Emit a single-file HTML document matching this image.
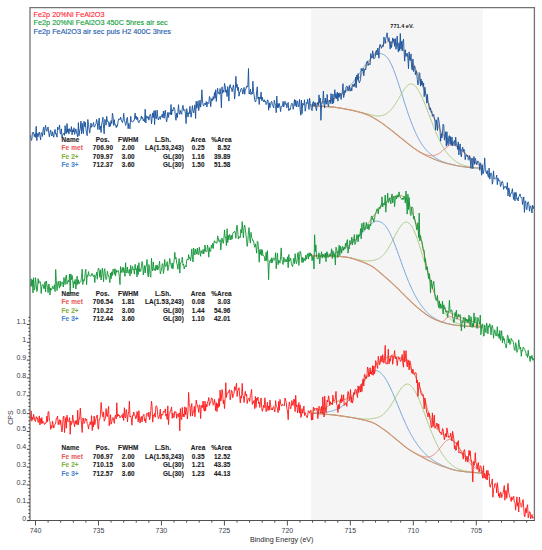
<!DOCTYPE html>
<html><head><meta charset="utf-8"><style>
html,body{margin:0;padding:0;background:#fff;}
body{width:542px;height:550px;overflow:hidden;}
svg{display:block;font-family:"Liberation Sans",sans-serif;}
.ax{font-size:7px;fill:#3a3a4a;}
.ax2{font-size:7.1px;fill:#2a2a2a;}
.lg{font-size:7.3px;stroke-width:0.14px;}
.pk{font-size:5.6px;font-weight:bold;fill:#222;}
.tb{font-size:6.4px;letter-spacing:0.12px;font-weight:bold;fill:#1a1a1a;stroke:#1a1a1a;stroke-width:0.1px;}
</style></head><body>
<svg width="542" height="550" viewBox="0 0 542 550">
<rect x="311" y="9.6" width="171.8" height="510.4" fill="#f5f5f5"/>
<polyline points="311.0,104.9 311.5,104.9 312.0,104.8 312.5,104.8 313.0,104.7 313.5,104.6 314.0,104.6 314.5,104.5 315.0,104.4 315.5,104.4 316.0,104.3 316.5,104.2 317.0,104.2 317.5,104.1 318.0,104.0 318.5,103.9 319.0,103.8 319.5,103.8 320.0,103.7 320.5,103.6 321.0,103.5 321.5,103.4 322.0,103.2 322.5,103.1 323.0,103.0 323.5,102.9 324.0,102.8 324.5,102.6 325.0,102.5 325.5,102.3 326.0,102.2 326.5,102.0 327.0,101.9 327.5,101.7 328.0,101.5 328.5,101.3 329.0,101.1 329.5,100.9 330.0,100.7 330.5,100.5 331.0,100.3 331.5,100.1 332.0,99.8 332.5,99.6 333.0,99.4 333.5,99.1 334.0,98.9 334.5,98.6 335.0,98.3 335.5,98.1 336.0,97.8 336.5,97.5 337.0,97.2 337.5,96.9 338.0,96.6 338.5,96.2 339.0,95.9 339.5,95.6 340.0,95.2 340.5,94.8 341.0,94.5 341.5,94.1 342.0,93.7 342.5,93.3 343.0,92.8 343.5,92.4 344.0,92.0 344.5,91.5 345.0,91.0 345.5,90.5 346.0,90.1 346.5,89.6 347.0,89.0 347.5,88.5 348.0,88.0 348.5,87.4 349.0,86.9 349.5,86.3 350.0,85.7 350.5,85.1 351.0,84.5 351.5,83.9 352.0,83.3 352.5,82.7 353.0,82.1 353.5,81.4 354.0,80.8 354.5,80.1 355.0,79.5 355.5,78.8 356.0,78.1 356.5,77.4 357.0,76.7 357.5,76.0 358.0,75.3 358.5,74.6 359.0,73.9 359.5,73.2 360.0,72.5 360.5,71.8 361.0,71.1 361.5,70.4 362.0,69.7 362.5,69.0 363.0,68.3 363.5,67.6 364.0,66.9 364.5,66.2 365.0,65.5 365.5,64.8 366.0,64.2 366.5,63.5 367.0,62.8 367.5,62.2 368.0,61.6 368.5,61.0 369.0,60.4 369.5,59.9 370.0,59.3 370.5,58.8 371.0,58.3 371.5,57.9 372.0,57.4 372.5,57.0 373.0,56.6 373.5,56.2 374.0,55.9 374.5,55.5 375.0,55.2 375.5,55.0 376.0,54.7 376.5,54.5 377.0,54.3 377.5,54.1 378.0,54.0 378.5,53.9 379.0,53.8 379.5,53.7 380.0,53.7 380.5,53.7 381.0,53.8 381.5,53.8 382.0,54.0 382.5,54.1 383.0,54.3 383.5,54.5 384.0,54.8 384.5,55.1 385.0,55.5 385.5,55.8 386.0,56.3 386.5,56.8 387.0,57.3 387.5,57.9 388.0,58.6 388.5,59.3 389.0,60.1 389.5,60.9 390.0,61.8 390.5,62.8 391.0,63.8 391.5,64.8 392.0,65.9 392.5,67.1 393.0,68.2 393.5,69.5 394.0,70.8 394.5,72.1 395.0,73.4 395.5,74.8 396.0,76.2 396.5,77.6 397.0,79.1 397.5,80.6 398.0,82.1 398.5,83.6 399.0,85.2 399.5,86.7 400.0,88.3 400.5,89.9 401.0,91.4 401.5,93.0 402.0,94.6 402.5,96.2 403.0,97.8 403.5,99.4 404.0,101.0 404.5,102.5 405.0,104.1 405.5,105.7 406.0,107.2 406.5,108.7 407.0,110.2 407.5,111.7 408.0,113.2 408.5,114.7 409.0,116.1 409.5,117.5 410.0,118.9 410.5,120.2 411.0,121.6 411.5,122.9 412.0,124.2 412.5,125.4 413.0,126.7 413.5,127.9 414.0,129.1 414.5,130.2 415.0,131.4 415.5,132.5 416.0,133.6 416.5,134.6 417.0,135.7 417.5,136.7 418.0,137.6 418.5,138.6 419.0,139.5 419.5,140.4 420.0,141.2 420.5,142.1 421.0,142.9 421.5,143.7 422.0,144.4 422.5,145.1 423.0,145.9 423.5,146.5 424.0,147.2 424.5,147.8 425.0,148.5 425.5,149.1 426.0,149.6 426.5,150.2 427.0,150.8 427.5,151.3 428.0,151.8 428.5,152.3 429.0,152.8 429.5,153.2 430.0,153.7 430.5,154.1 431.0,154.6 431.5,155.0 432.0,155.4 432.5,155.8 433.0,156.2 433.5,156.6 434.0,156.9 434.5,157.3 435.0,157.6 435.5,158.0 436.0,158.3 436.5,158.6 437.0,158.9 437.5,159.2 438.0,159.5 438.5,159.7 439.0,160.0 439.5,160.3 440.0,160.5 440.5,160.7 441.0,161.0 441.5,161.2 442.0,161.4 442.5,161.6 443.0,161.8 443.5,162.0 444.0,162.1 444.5,162.3 445.0,162.5 445.5,162.6 446.0,162.8 446.5,163.0 447.0,163.1 447.5,163.3 448.0,163.4 448.5,163.5 449.0,163.7 449.5,163.8 450.0,164.0 450.5,164.1 451.0,164.2 451.5,164.3 452.0,164.5 452.5,164.6 453.0,164.7 453.5,164.8 454.0,164.9 454.5,165.1 455.0,165.2 455.5,165.3 456.0,165.4 456.5,165.5 457.0,165.6 457.5,165.7 458.0,165.8 458.5,165.9 459.0,166.0 459.5,166.1 460.0,166.2 460.5,166.3 461.0,166.3 461.5,166.4 462.0,166.5 462.5,166.6 463.0,166.6 463.5,166.7 464.0,166.8 464.5,166.8 465.0,166.9 465.5,167.0 466.0,167.0 466.5,167.1 467.0,167.2 467.5,167.2 468.0,167.3 468.5,167.3 469.0,167.4 469.5,167.4 470.0,167.5 470.5,167.5 471.0,167.6 471.5,167.6 472.0,167.7 472.5,167.7 473.0,167.7 473.5,167.8 474.0,167.8 474.5,167.8 475.0,167.9 475.5,167.9 476.0,167.9 476.5,168.0 477.0,168.0 477.5,168.0 478.0,168.1 478.5,168.1 479.0,168.1 479.5,168.2 480.0,168.2 480.5,168.2 481.0,168.2 481.5,168.2 482.0,168.3 482.5,168.3 483.0,168.3" fill="none" stroke="#72a4d8" stroke-width="1"/>
<polyline points="311.0,106.0 311.5,106.0 312.0,106.0 312.5,106.0 313.0,106.0 313.5,106.0 314.0,106.0 314.5,106.0 315.0,106.0 315.5,106.1 316.0,106.1 316.5,106.1 317.0,106.1 317.5,106.1 318.0,106.1 318.5,106.2 319.0,106.2 319.5,106.2 320.0,106.2 320.5,106.2 321.0,106.3 321.5,106.3 322.0,106.3 322.5,106.3 323.0,106.4 323.5,106.4 324.0,106.4 324.5,106.5 325.0,106.5 325.5,106.5 326.0,106.5 326.5,106.6 327.0,106.6 327.5,106.6 328.0,106.7 328.5,106.7 329.0,106.7 329.5,106.8 330.0,106.8 330.5,106.8 331.0,106.9 331.5,106.9 332.0,107.0 332.5,107.0 333.0,107.1 333.5,107.1 334.0,107.2 334.5,107.2 335.0,107.3 335.5,107.4 336.0,107.4 336.5,107.5 337.0,107.6 337.5,107.7 338.0,107.7 338.5,107.8 339.0,107.9 339.5,108.0 340.0,108.1 340.5,108.1 341.0,108.2 341.5,108.3 342.0,108.4 342.5,108.5 343.0,108.6 343.5,108.6 344.0,108.7 344.5,108.8 345.0,108.9 345.5,109.0 346.0,109.1 346.5,109.2 347.0,109.3 347.5,109.4 348.0,109.5 348.5,109.6 349.0,109.7 349.5,109.8 350.0,109.9 350.5,110.0 351.0,110.1 351.5,110.2 352.0,110.3 352.5,110.4 353.0,110.5 353.5,110.6 354.0,110.7 354.5,110.8 355.0,110.9 355.5,111.0 356.0,111.1 356.5,111.3 357.0,111.4 357.5,111.5 358.0,111.6 358.5,111.7 359.0,111.8 359.5,112.0 360.0,112.1 360.5,112.2 361.0,112.3 361.5,112.4 362.0,112.6 362.5,112.7 363.0,112.8 363.5,112.9 364.0,113.0 364.5,113.2 365.0,113.3 365.5,113.4 366.0,113.5 366.5,113.6 367.0,113.7 367.5,113.9 368.0,114.0 368.5,114.1 369.0,114.2 369.5,114.4 370.0,114.5 370.5,114.6 371.0,114.8 371.5,114.9 372.0,115.0 372.5,115.1 373.0,115.3 373.5,115.4 374.0,115.5 374.5,115.6 375.0,115.7 375.5,115.7 376.0,115.8 376.5,115.9 377.0,115.9 377.5,116.0 378.0,116.0 378.5,116.0 379.0,116.0 379.5,115.9 380.0,115.9 380.5,115.8 381.0,115.7 381.5,115.6 382.0,115.5 382.5,115.4 383.0,115.2 383.5,115.1 384.0,114.9 384.5,114.7 385.0,114.5 385.5,114.2 386.0,114.0 386.5,113.7 387.0,113.4 387.5,113.0 388.0,112.6 388.5,112.2 389.0,111.8 389.5,111.3 390.0,110.8 390.5,110.3 391.0,109.7 391.5,109.2 392.0,108.6 392.5,107.9 393.0,107.3 393.5,106.6 394.0,105.9 394.5,105.2 395.0,104.4 395.5,103.7 396.0,102.9 396.5,102.1 397.0,101.3 397.5,100.5 398.0,99.6 398.5,98.8 399.0,97.9 399.5,97.1 400.0,96.2 400.5,95.4 401.0,94.5 401.5,93.7 402.0,92.9 402.5,92.1 403.0,91.3 403.5,90.5 404.0,89.8 404.5,89.1 405.0,88.4 405.5,87.8 406.0,87.2 406.5,86.6 407.0,86.1 407.5,85.6 408.0,85.2 408.5,84.8 409.0,84.5 409.5,84.3 410.0,84.1 410.5,83.9 411.0,83.9 411.5,83.9 412.0,83.9 412.5,84.1 413.0,84.3 413.5,84.6 414.0,84.9 414.5,85.4 415.0,85.8 415.5,86.3 416.0,86.9 416.5,87.5 417.0,88.2 417.5,88.9 418.0,89.7 418.5,90.5 419.0,91.4 419.5,92.3 420.0,93.2 420.5,94.2 421.0,95.2 421.5,96.2 422.0,97.3 422.5,98.4 423.0,99.5 423.5,100.7 424.0,101.9 424.5,103.1 425.0,104.3 425.5,105.6 426.0,106.9 426.5,108.2 427.0,109.4 427.5,110.8 428.0,112.1 428.5,113.4 429.0,114.7 429.5,116.0 430.0,117.4 430.5,118.7 431.0,120.0 431.5,121.3 432.0,122.6 432.5,123.9 433.0,125.2 433.5,126.5 434.0,127.8 434.5,129.0 435.0,130.3 435.5,131.5 436.0,132.7 436.5,133.9 437.0,135.0 437.5,136.2 438.0,137.3 438.5,138.4 439.0,139.4 439.5,140.5 440.0,141.5 440.5,142.5 441.0,143.4 441.5,144.3 442.0,145.3 442.5,146.1 443.0,147.0 443.5,147.8 444.0,148.6 444.5,149.4 445.0,150.1 445.5,150.9 446.0,151.6 446.5,152.3 447.0,152.9 447.5,153.6 448.0,154.2 448.5,154.8 449.0,155.3 449.5,155.9 450.0,156.4 450.5,156.9 451.0,157.4 451.5,157.9 452.0,158.4 452.5,158.8 453.0,159.3 453.5,159.7 454.0,160.1 454.5,160.5 455.0,160.9 455.5,161.2 456.0,161.6 456.5,161.9 457.0,162.2 457.5,162.5 458.0,162.8 458.5,163.1 459.0,163.3 459.5,163.6 460.0,163.8 460.5,164.1 461.0,164.3 461.5,164.5 462.0,164.7 462.5,164.9 463.0,165.1 463.5,165.2 464.0,165.4 464.5,165.6 465.0,165.7 465.5,165.9 466.0,166.0 466.5,166.1 467.0,166.3 467.5,166.4 468.0,166.5 468.5,166.6 469.0,166.7 469.5,166.8 470.0,166.9 470.5,167.0 471.0,167.1 471.5,167.1 472.0,167.2 472.5,167.3 473.0,167.4 473.5,167.4 474.0,167.5 474.5,167.5 475.0,167.6 475.5,167.7 476.0,167.7 476.5,167.8 477.0,167.8 477.5,167.9 478.0,167.9 478.5,168.0 479.0,168.0 479.5,168.0 480.0,168.1 480.5,168.1 481.0,168.1 481.5,168.2 482.0,168.2 482.5,168.2 483.0,168.2" fill="none" stroke="#abc982" stroke-width="1"/>
<polyline points="311.0,106.0 311.5,106.0 312.0,106.0 312.5,106.0 313.0,106.0 313.5,106.0 314.0,106.0 314.5,106.0 315.0,106.0 315.5,106.1 316.0,106.1 316.5,106.1 317.0,106.1 317.5,106.1 318.0,106.1 318.5,106.2 319.0,106.2 319.5,106.2 320.0,106.2 320.5,106.2 321.0,106.3 321.5,106.3 322.0,106.3 322.5,106.3 323.0,106.4 323.5,106.4 324.0,106.4 324.5,106.5 325.0,106.5 325.5,106.5 326.0,106.5 326.5,106.6 327.0,106.6 327.5,106.6 328.0,106.7 328.5,106.7 329.0,106.7 329.5,106.8 330.0,106.8 330.5,106.8 331.0,106.9 331.5,106.9 332.0,107.0 332.5,107.0 333.0,107.1 333.5,107.1 334.0,107.2 334.5,107.2 335.0,107.3 335.5,107.4 336.0,107.4 336.5,107.5 337.0,107.6 337.5,107.7 338.0,107.7 338.5,107.8 339.0,107.9 339.5,108.0 340.0,108.1 340.5,108.1 341.0,108.2 341.5,108.3 342.0,108.4 342.5,108.5 343.0,108.6 343.5,108.7 344.0,108.7 344.5,108.8 345.0,108.9 345.5,109.0 346.0,109.1 346.5,109.2 347.0,109.3 347.5,109.4 348.0,109.5 348.5,109.6 349.0,109.7 349.5,109.8 350.0,109.9 350.5,110.0 351.0,110.1 351.5,110.2 352.0,110.3 352.5,110.4 353.0,110.5 353.5,110.7 354.0,110.8 354.5,110.9 355.0,111.0 355.5,111.1 356.0,111.3 356.5,111.4 357.0,111.5 357.5,111.7 358.0,111.8 358.5,111.9 359.0,112.1 359.5,112.2 360.0,112.3 360.5,112.5 361.0,112.6 361.5,112.8 362.0,112.9 362.5,113.1 363.0,113.3 363.5,113.4 364.0,113.6 364.5,113.7 365.0,113.9 365.5,114.1 366.0,114.3 366.5,114.4 367.0,114.6 367.5,114.8 368.0,115.0 368.5,115.2 369.0,115.5 369.5,115.7 370.0,115.9 370.5,116.2 371.0,116.4 371.5,116.7 372.0,117.0 372.5,117.2 373.0,117.5 373.5,117.8 374.0,118.1 374.5,118.4 375.0,118.7 375.5,119.0 376.0,119.3 376.5,119.6 377.0,119.9 377.5,120.2 378.0,120.5 378.5,120.9 379.0,121.2 379.5,121.5 380.0,121.8 380.5,122.1 381.0,122.5 381.5,122.8 382.0,123.1 382.5,123.5 383.0,123.8 383.5,124.2 384.0,124.6 384.5,125.0 385.0,125.3 385.5,125.7 386.0,126.1 386.5,126.5 387.0,126.9 387.5,127.3 388.0,127.7 388.5,128.1 389.0,128.4 389.5,128.8 390.0,129.2 390.5,129.6 391.0,130.0 391.5,130.4 392.0,130.8 392.5,131.2 393.0,131.6 393.5,132.0 394.0,132.4 394.5,132.8 395.0,133.2 395.5,133.6 396.0,134.0 396.5,134.4 397.0,134.8 397.5,135.2 398.0,135.6 398.5,136.0 399.0,136.4 399.5,136.8 400.0,137.2 400.5,137.6 401.0,138.0 401.5,138.4 402.0,138.8 402.5,139.2 403.0,139.6 403.5,140.0 404.0,140.4 404.5,140.8 405.0,141.2 405.5,141.6 406.0,142.0 406.5,142.4 407.0,142.9 407.5,143.2 408.0,143.6 408.5,144.0 409.0,144.4 409.5,144.8 410.0,145.2 410.5,145.6 411.0,145.9 411.5,146.3 412.0,146.7 412.5,147.0 413.0,147.4 413.5,147.8 414.0,148.1 414.5,148.5 415.0,148.8 415.5,149.2 416.0,149.5 416.5,149.9 417.0,150.2 417.5,150.5 418.0,150.9 418.5,151.2 419.0,151.5 419.5,151.8 420.0,152.0 420.5,152.3 421.0,152.6 421.5,152.8 422.0,153.1 422.5,153.3 423.0,153.5 423.5,153.8 424.0,154.0 424.5,154.2 425.0,154.3 425.5,154.5 426.0,154.7 426.5,154.8 427.0,155.0 427.5,155.1 428.0,155.2 428.5,155.3 429.0,155.4 429.5,155.5 430.0,155.6 430.5,155.6 431.0,155.6 431.5,155.6 432.0,155.6 432.5,155.6 433.0,155.6 433.5,155.5 434.0,155.5 434.5,155.4 435.0,155.2 435.5,155.1 436.0,154.9 436.5,154.7 437.0,154.5 437.5,154.3 438.0,154.0 438.5,153.7 439.0,153.4 439.5,153.1 440.0,152.8 440.5,152.4 441.0,152.0 441.5,151.6 442.0,151.2 442.5,150.8 443.0,150.3 443.5,149.9 444.0,149.4 444.5,149.0 445.0,148.6 445.5,148.1 446.0,147.7 446.5,147.3 447.0,146.9 447.5,146.6 448.0,146.2 448.5,145.9 449.0,145.7 449.5,145.4 450.0,145.2 450.5,145.1 451.0,145.0 451.5,144.9 452.0,144.9 452.5,144.9 453.0,145.0 453.5,145.2 454.0,145.3 454.5,145.5 455.0,145.7 455.5,145.9 456.0,146.2 456.5,146.5 457.0,146.8 457.5,147.1 458.0,147.5 458.5,147.8 459.0,148.2 459.5,148.6 460.0,149.0 460.5,149.5 461.0,149.9 461.5,150.4 462.0,150.8 462.5,151.3 463.0,151.8 463.5,152.3 464.0,152.8 464.5,153.3 465.0,153.8 465.5,154.3 466.0,154.8 466.5,155.3 467.0,155.8 467.5,156.3 468.0,156.8 468.5,157.2 469.0,157.7 469.5,158.2 470.0,158.6 470.5,159.1 471.0,159.5 471.5,159.9 472.0,160.3 472.5,160.7 473.0,161.1 473.5,161.5 474.0,161.8 474.5,162.2 475.0,162.5 475.5,162.8 476.0,163.2 476.5,163.5 477.0,163.8 477.5,164.0 478.0,164.3 478.5,164.6 479.0,164.8 479.5,165.0 480.0,165.3 480.5,165.5 481.0,165.7 481.5,165.9 482.0,166.0 482.5,166.2 483.0,166.4" fill="none" stroke="#e98585" stroke-width="1"/>
<polyline points="311.0,106.0 311.5,106.0 312.0,106.0 312.5,106.0 313.0,106.0 313.5,106.0 314.0,106.0 314.5,106.0 315.0,106.0 315.5,106.1 316.0,106.1 316.5,106.1 317.0,106.1 317.5,106.1 318.0,106.1 318.5,106.2 319.0,106.2 319.5,106.2 320.0,106.2 320.5,106.2 321.0,106.3 321.5,106.3 322.0,106.3 322.5,106.3 323.0,106.4 323.5,106.4 324.0,106.4 324.5,106.5 325.0,106.5 325.5,106.5 326.0,106.5 326.5,106.6 327.0,106.6 327.5,106.6 328.0,106.7 328.5,106.7 329.0,106.7 329.5,106.8 330.0,106.8 330.5,106.8 331.0,106.9 331.5,106.9 332.0,107.0 332.5,107.0 333.0,107.1 333.5,107.1 334.0,107.2 334.5,107.2 335.0,107.3 335.5,107.4 336.0,107.4 336.5,107.5 337.0,107.6 337.5,107.7 338.0,107.7 338.5,107.8 339.0,107.9 339.5,108.0 340.0,108.1 340.5,108.1 341.0,108.2 341.5,108.3 342.0,108.4 342.5,108.5 343.0,108.6 343.5,108.7 344.0,108.7 344.5,108.8 345.0,108.9 345.5,109.0 346.0,109.1 346.5,109.2 347.0,109.3 347.5,109.4 348.0,109.5 348.5,109.6 349.0,109.7 349.5,109.8 350.0,109.9 350.5,110.0 351.0,110.1 351.5,110.2 352.0,110.3 352.5,110.4 353.0,110.5 353.5,110.7 354.0,110.8 354.5,110.9 355.0,111.0 355.5,111.1 356.0,111.3 356.5,111.4 357.0,111.5 357.5,111.7 358.0,111.8 358.5,111.9 359.0,112.1 359.5,112.2 360.0,112.3 360.5,112.5 361.0,112.6 361.5,112.8 362.0,112.9 362.5,113.1 363.0,113.3 363.5,113.4 364.0,113.6 364.5,113.7 365.0,113.9 365.5,114.1 366.0,114.3 366.5,114.4 367.0,114.6 367.5,114.8 368.0,115.0 368.5,115.2 369.0,115.5 369.5,115.7 370.0,115.9 370.5,116.2 371.0,116.4 371.5,116.7 372.0,117.0 372.5,117.2 373.0,117.5 373.5,117.8 374.0,118.1 374.5,118.4 375.0,118.7 375.5,119.0 376.0,119.3 376.5,119.6 377.0,119.9 377.5,120.2 378.0,120.5 378.5,120.9 379.0,121.2 379.5,121.5 380.0,121.8 380.5,122.1 381.0,122.5 381.5,122.8 382.0,123.1 382.5,123.5 383.0,123.8 383.5,124.2 384.0,124.6 384.5,125.0 385.0,125.3 385.5,125.7 386.0,126.1 386.5,126.5 387.0,126.9 387.5,127.3 388.0,127.7 388.5,128.1 389.0,128.4 389.5,128.8 390.0,129.2 390.5,129.6 391.0,130.0 391.5,130.4 392.0,130.8 392.5,131.2 393.0,131.6 393.5,132.0 394.0,132.4 394.5,132.8 395.0,133.2 395.5,133.6 396.0,134.0 396.5,134.4 397.0,134.8 397.5,135.2 398.0,135.6 398.5,136.0 399.0,136.4 399.5,136.8 400.0,137.2 400.5,137.6 401.0,138.0 401.5,138.4 402.0,138.8 402.5,139.2 403.0,139.6 403.5,140.0 404.0,140.4 404.5,140.8 405.0,141.2 405.5,141.6 406.0,142.0 406.5,142.5 407.0,142.9 407.5,143.3 408.0,143.7 408.5,144.0 409.0,144.4 409.5,144.8 410.0,145.2 410.5,145.6 411.0,145.9 411.5,146.3 412.0,146.7 412.5,147.1 413.0,147.4 413.5,147.8 414.0,148.2 414.5,148.5 415.0,148.9 415.5,149.3 416.0,149.6 416.5,150.0 417.0,150.3 417.5,150.6 418.0,151.0 418.5,151.3 419.0,151.6 419.5,151.9 420.0,152.2 420.5,152.5 421.0,152.8 421.5,153.1 422.0,153.4 422.5,153.7 423.0,153.9 423.5,154.2 424.0,154.5 424.5,154.7 425.0,155.0 425.5,155.2 426.0,155.5 426.5,155.7 427.0,156.0 427.5,156.2 428.0,156.5 428.5,156.7 429.0,156.9 429.5,157.2 430.0,157.4 430.5,157.6 431.0,157.8 431.5,158.1 432.0,158.3 432.5,158.5 433.0,158.7 433.5,158.9 434.0,159.2 434.5,159.4 435.0,159.6 435.5,159.8 436.0,160.0 436.5,160.2 437.0,160.4 437.5,160.6 438.0,160.8 438.5,161.0 439.0,161.2 439.5,161.3 440.0,161.5 440.5,161.7 441.0,161.8 441.5,162.0 442.0,162.1 442.5,162.3 443.0,162.4 443.5,162.6 444.0,162.7 444.5,162.8 445.0,163.0 445.5,163.1 446.0,163.2 446.5,163.4 447.0,163.5 447.5,163.6 448.0,163.7 448.5,163.8 449.0,163.9 449.5,164.1 450.0,164.2 450.5,164.3 451.0,164.4 451.5,164.5 452.0,164.6 452.5,164.7 453.0,164.8 453.5,165.0 454.0,165.1 454.5,165.2 455.0,165.3 455.5,165.4 456.0,165.5 456.5,165.6 457.0,165.7 457.5,165.8 458.0,165.9 458.5,166.0 459.0,166.0 459.5,166.1 460.0,166.2 460.5,166.3 461.0,166.4 461.5,166.4 462.0,166.5 462.5,166.6 463.0,166.7 463.5,166.7 464.0,166.8 464.5,166.9 465.0,166.9 465.5,167.0 466.0,167.1 466.5,167.1 467.0,167.2 467.5,167.2 468.0,167.3 468.5,167.3 469.0,167.4 469.5,167.4 470.0,167.5 470.5,167.5 471.0,167.6 471.5,167.6 472.0,167.7 472.5,167.7 473.0,167.7 473.5,167.8 474.0,167.8 474.5,167.8 475.0,167.9 475.5,167.9 476.0,168.0 476.5,168.0 477.0,168.0 477.5,168.0 478.0,168.1 478.5,168.1 479.0,168.1 479.5,168.2 480.0,168.2 480.5,168.2 481.0,168.2 481.5,168.2 482.0,168.3 482.5,168.3 483.0,168.3" fill="none" stroke="#c99a74" stroke-width="1.15"/>
<polyline points="311.0,105.3 311.5,105.1 312.0,105.0 312.5,104.8 313.0,104.7 313.5,104.5 314.0,104.4 314.5,104.2 315.0,104.1 315.5,103.9 316.0,103.8 316.5,103.6 317.0,103.5 317.5,103.3 318.0,103.2 318.5,103.0 319.0,102.9 319.5,102.7 320.0,102.6 320.5,102.4 321.0,102.2 321.5,102.1 322.0,101.9 322.5,101.8 323.0,101.7 323.5,101.5 324.0,101.4 324.5,101.3 325.0,101.2 325.5,101.2 326.0,101.1 326.5,101.0 327.0,100.9 327.5,100.8 328.0,100.8 328.5,100.7 329.0,100.6 329.5,100.5 330.0,100.4 330.5,100.2 331.0,100.1 331.5,99.9 332.0,99.7 332.5,99.5 333.0,99.3 333.5,99.1 334.0,98.8 334.5,98.6 335.0,98.3 335.5,98.0 336.0,97.8 336.5,97.5 337.0,97.2 337.5,96.9 338.0,96.6 338.5,96.3 339.0,96.0 339.5,95.7 340.0,95.3 340.5,95.0 341.0,94.6 341.5,94.2 342.0,93.9 342.5,93.5 343.0,93.2 343.5,92.8 344.0,92.5 344.5,92.1 345.0,91.8 345.5,91.4 346.0,91.1 346.5,90.8 347.0,90.4 347.5,90.0 348.0,89.7 348.5,89.3 349.0,88.9 349.5,88.5 350.0,88.1 350.5,87.6 351.0,87.2 351.5,86.7 352.0,86.3 352.5,85.8 353.0,85.3 353.5,84.8 354.0,84.3 354.5,83.7 355.0,83.2 355.5,82.6 356.0,82.0 356.5,81.4 357.0,80.8 357.5,80.1 358.0,79.5 358.5,78.8 359.0,78.1 359.5,77.4 360.0,76.7 360.5,76.0 361.0,75.3 361.5,74.5 362.0,73.8 362.5,73.0 363.0,72.3 363.5,71.5 364.0,70.8 364.5,69.9 365.0,69.1 365.5,68.2 366.0,67.4 366.5,66.5 367.0,65.6 367.5,64.7 368.0,63.8 368.5,62.9 369.0,62.0 369.5,61.2 370.0,60.4 370.5,59.6 371.0,58.8 371.5,58.1 372.0,57.3 372.5,56.6 373.0,55.9 373.5,55.2 374.0,54.5 374.5,53.8 375.0,53.1 375.5,52.4 376.0,51.7 376.5,51.1 377.0,50.4 377.5,49.8 378.0,49.2 378.5,48.6 379.0,48.1 379.5,47.5 380.0,47.0 380.5,46.6 381.0,46.1 381.5,45.7 382.0,45.3 382.5,44.9 383.0,44.5 383.5,44.0 384.0,43.6 384.5,43.3 385.0,42.9 385.5,42.6 386.0,42.3 386.5,42.1 387.0,41.9 387.5,41.8 388.0,41.8 388.5,41.8 389.0,41.9 389.5,41.9 390.0,42.0 390.5,42.1 391.0,42.2 391.5,42.3 392.0,42.4 392.5,42.5 393.0,42.7 393.5,42.8 394.0,43.0 394.5,43.1 395.0,43.3 395.5,43.6 396.0,43.8 396.5,44.1 397.0,44.5 397.5,44.8 398.0,45.2 398.5,45.6 399.0,46.1 399.5,46.5 400.0,46.9 400.5,47.3 401.0,47.8 401.5,48.2 402.0,48.7 402.5,49.2 403.0,49.7 403.5,50.2 404.0,50.8 404.5,51.3 405.0,51.9 405.5,52.5 406.0,53.1 406.5,53.7 407.0,54.3 407.5,55.0 408.0,55.6 408.5,56.3 409.0,56.9 409.5,57.6 410.0,58.4 410.5,59.1 411.0,59.9 411.5,60.6 412.0,61.5 412.5,62.3 413.0,63.2 413.5,64.1 414.0,65.1 414.5,66.2 415.0,67.3 415.5,68.5 416.0,69.8 416.5,71.2 417.0,72.5 417.5,73.9 418.0,75.3 418.5,76.6 419.0,78.0 419.5,79.3 420.0,80.5 420.5,81.7 421.0,82.8 421.5,83.8 422.0,84.9 422.5,85.9 423.0,87.0 423.5,88.1 424.0,89.2 424.5,90.5 425.0,91.9 425.5,93.4 426.0,95.2 426.5,97.0 427.0,98.9 427.5,100.7 428.0,102.4 428.5,104.0 429.0,105.5 429.5,106.9 430.0,108.3 430.5,109.6 431.0,110.9 431.5,112.2 432.0,113.4 432.5,114.6 433.0,115.7 433.5,116.7 434.0,117.7 434.5,118.6 435.0,119.5 435.5,120.5 436.0,121.4 436.5,122.4 437.0,123.5 437.5,124.6 438.0,125.7 438.5,126.8 439.0,127.9 439.5,129.0 440.0,130.0 440.5,130.9 441.0,131.6 441.5,132.4 442.0,133.1 442.5,133.7 443.0,134.3 443.5,134.9 444.0,135.5 444.5,136.0 445.0,136.5 445.5,137.0 446.0,137.5 446.5,138.0 447.0,138.4 447.5,138.8 448.0,139.2 448.5,139.5 449.0,139.9 449.5,140.3 450.0,140.6 450.5,141.0 451.0,141.4 451.5,141.8 452.0,142.2 452.5,142.6 453.0,143.0 453.5,143.4 454.0,143.8 454.5,144.2 455.0,144.6 455.5,144.9 456.0,145.3 456.5,145.7 457.0,146.1 457.5,146.5 458.0,146.9 458.5,147.4 459.0,147.8 459.5,148.2 460.0,148.6 460.5,149.0 461.0,149.4 461.5,149.9 462.0,150.3 462.5,150.7 463.0,151.2 463.5,151.6 464.0,152.1 464.5,152.5 465.0,153.0 465.5,153.4 466.0,153.9 466.5,154.4 467.0,154.8 467.5,155.3 468.0,155.7 468.5,156.2 469.0,156.7 469.5,157.1 470.0,157.6 470.5,158.0 471.0,158.4 471.5,158.9 472.0,159.3 472.5,159.7 473.0,160.2 473.5,160.6 474.0,161.1 474.5,161.5 475.0,161.9 475.5,162.3 476.0,162.7 476.5,163.1 477.0,163.5 477.5,163.9 478.0,164.2 478.5,164.6 479.0,164.9 479.5,165.3 480.0,165.6 480.5,166.0 481.0,166.3 481.5,166.6 482.0,166.9 482.5,167.2 483.0,167.5" fill="none" stroke="#cc9060" stroke-width="1.0"/>
<polyline points="30.5,135.1 31.1,140.5 31.8,139.9 32.4,132.5 33.0,133.3 33.6,132.2 34.3,136.7 34.9,134.0 35.5,137.3 36.2,126.3 36.8,140.6 37.4,133.5 38.1,136.7 38.7,133.2 39.3,132.1 39.9,135.6 40.6,139.9 41.2,132.7 41.8,132.9 42.5,136.4 43.1,129.8 43.7,127.1 44.4,135.0 45.0,128.3 45.6,125.3 46.2,129.9 46.9,131.3 47.5,128.2 48.1,127.0 48.8,133.5 49.4,136.9 50.0,132.2 50.7,130.0 51.3,134.7 51.9,136.0 52.5,131.7 53.2,135.2 53.8,137.3 54.4,132.0 55.1,129.4 55.7,134.2 56.3,133.7 57.0,137.2 57.6,127.1 58.2,129.6 58.8,128.8 59.5,124.9 60.1,132.6 60.7,134.2 61.4,128.8 62.0,137.6 62.6,135.1 63.3,134.2 63.9,133.1 64.5,135.4 65.1,125.6 65.8,133.7 66.4,133.6 67.0,123.5 67.7,132.3 68.3,128.9 68.9,134.0 69.6,128.7 70.2,130.4 70.8,131.8 71.4,126.6 72.1,134.8 72.7,129.7 73.3,132.1 74.0,127.8 74.6,134.4 75.2,132.3 75.9,128.9 76.5,132.2 77.1,134.7 77.7,136.9 78.4,122.6 79.0,135.8 79.6,131.0 80.3,128.5 80.9,121.1 81.5,133.9 82.2,123.2 82.8,130.7 83.4,133.6 84.0,121.3 84.7,126.6 85.3,122.2 85.9,128.5 86.6,133.7 87.2,135.7 87.8,119.5 88.5,124.4 89.1,129.6 89.7,133.1 90.3,128.1 91.0,123.1 91.6,127.3 92.2,125.8 92.9,124.9 93.5,122.5 94.1,127.1 94.8,126.6 95.4,124.7 96.0,124.0 96.6,119.4 97.3,122.6 97.9,129.5 98.5,123.5 99.2,118.1 99.8,129.6 100.4,126.1 101.1,132.5 101.7,124.0 102.3,121.5 102.9,117.2 103.6,128.7 104.2,133.8 104.8,119.4 105.5,120.1 106.1,125.2 106.7,116.3 107.4,121.4 108.0,121.0 108.6,123.2 109.2,127.0 109.9,122.4 110.5,126.2 111.1,120.5 111.8,123.6 112.4,113.2 113.0,116.1 113.7,125.5 114.3,119.7 114.9,124.6 115.5,124.4 116.2,127.6 116.8,125.5 117.4,126.3 118.1,121.5 118.7,119.0 119.3,118.8 120.0,119.8 120.6,117.1 121.2,119.5 121.8,121.3 122.5,122.6 123.1,120.1 123.7,113.3 124.4,120.9 125.0,122.0 125.6,125.5 126.3,123.2 126.9,117.9 127.5,117.4 128.1,128.7 128.8,123.3 129.4,127.7 130.0,128.8 130.7,116.3 131.3,121.3 131.9,121.5 132.6,121.8 133.2,121.7 133.8,120.2 134.4,120.1 135.1,113.1 135.7,118.7 136.3,116.2 137.0,119.9 137.6,117.4 138.2,121.9 138.9,122.8 139.5,120.6 140.1,120.6 140.7,119.7 141.4,115.9 142.0,118.6 142.6,117.2 143.3,120.9 143.9,119.3 144.5,121.7 145.2,109.2 145.8,123.0 146.4,116.0 147.0,116.1 147.7,118.3 148.3,116.7 148.9,120.2 149.6,116.4 150.2,114.1 150.8,114.9 151.5,123.8 152.1,118.2 152.7,112.9 153.3,117.6 154.0,110.8 154.6,124.6 155.2,110.5 155.9,118.7 156.5,118.7 157.1,110.1 157.8,117.3 158.4,120.0 159.0,117.7 159.6,116.7 160.3,119.4 160.9,116.0 161.5,116.7 162.2,114.2 162.8,117.7 163.4,111.1 164.1,118.3 164.7,112.8 165.3,110.2 165.9,116.3 166.6,121.8 167.2,118.7 167.8,112.4 168.5,117.4 169.1,112.5 169.7,113.8 170.4,114.6 171.0,104.5 171.6,114.9 172.2,109.7 172.9,111.0 173.5,107.6 174.1,107.3 174.8,109.6 175.4,116.9 176.0,120.3 176.7,113.1 177.3,117.6 177.9,111.8 178.5,104.7 179.2,113.2 179.8,114.3 180.4,110.4 181.1,113.3 181.7,114.3 182.3,108.1 183.0,105.3 183.6,110.4 184.2,110.3 184.8,109.5 185.5,114.9 186.1,123.6 186.7,108.7 187.4,113.1 188.0,117.1 188.6,112.7 189.3,113.9 189.9,106.3 190.5,112.1 191.1,117.2 191.8,111.9 192.4,105.6 193.0,110.5 193.7,113.0 194.3,109.0 194.9,104.8 195.6,118.5 196.2,101.3 196.8,108.4 197.4,105.9 198.1,100.8 198.7,110.6 199.3,106.7 200.0,100.1 200.6,107.2 201.2,102.7 201.9,89.8 202.5,101.1 203.1,104.8 203.7,106.1 204.4,103.9 205.0,103.1 205.6,104.7 206.3,101.5 206.9,107.1 207.5,102.5 208.2,102.8 208.8,103.5 209.4,96.5 210.0,97.6 210.7,106.7 211.3,101.3 211.9,98.4 212.6,100.6 213.2,96.6 213.8,99.3 214.5,92.5 215.1,98.1 215.7,89.8 216.3,101.4 217.0,93.2 217.6,88.2 218.2,93.5 218.9,92.5 219.5,94.3 220.1,88.5 220.8,94.6 221.4,107.8 222.0,86.9 222.6,93.3 223.3,90.3 223.9,92.1 224.5,83.4 225.2,85.9 225.8,92.3 226.4,89.9 227.1,96.6 227.7,86.5 228.3,89.9 228.9,101.1 229.6,85.4 230.2,84.6 230.8,88.1 231.5,88.0 232.1,91.7 232.7,88.7 233.4,84.9 234.0,89.0 234.6,99.1 235.2,93.4 235.9,76.3 236.5,87.4 237.1,84.3 237.8,90.6 238.4,87.3 239.0,96.2 239.7,92.0 240.3,91.9 240.9,89.1 241.5,88.2 242.2,89.9 242.8,94.1 243.4,91.0 244.1,87.4 244.7,94.3 245.3,89.9 246.0,88.8 246.6,85.9 247.2,87.0 247.8,86.8 248.5,68.5 249.1,94.0 249.7,92.3 250.4,89.2 251.0,94.7 251.6,92.4 252.3,93.9 252.9,81.2 253.5,91.2 254.1,95.1 254.8,100.3 255.4,102.0 256.0,100.9 256.7,90.6 257.3,86.8 257.9,98.8 258.6,97.0 259.2,104.5 259.8,97.1 260.4,98.9 261.1,92.1 261.7,100.6 262.3,97.2 263.0,100.9 263.6,101.8 264.2,99.7 264.9,101.9 265.5,101.0 266.1,104.6 266.7,103.9 267.4,99.9 268.0,100.1 268.6,110.2 269.3,102.8 269.9,107.7 270.5,105.5 271.2,101.8 271.8,101.3 272.4,105.3 273.0,106.1 273.7,107.9 274.3,100.2 274.9,103.2 275.6,105.5 276.2,112.7 276.8,96.1 277.5,107.8 278.1,103.6 278.7,107.5 279.3,103.4 280.0,106.8 280.6,111.6 281.2,106.4 281.9,106.6 282.5,106.2 283.1,101.4 283.8,106.9 284.4,103.7 285.0,101.2 285.6,104.4 286.3,103.6 286.9,107.8 287.5,104.4 288.2,102.4 288.8,110.7 289.4,108.8 290.1,109.9 290.7,107.2 291.3,104.3 291.9,103.2 292.6,104.0 293.2,109.3 293.8,106.0 294.5,99.5 295.1,105.8 295.7,100.1 296.4,106.9 297.0,101.3 297.6,101.1 298.2,106.9 298.9,106.1 299.5,99.4 300.1,109.4 300.8,115.3 301.4,100.0 302.0,113.8 302.7,103.2 303.3,103.9 303.9,105.2 304.5,99.8 305.2,111.2 305.8,107.8 306.4,102.5 307.1,103.6 307.7,99.2 308.3,104.1 309.0,109.5 309.6,98.3 310.2,103.6 310.8,105.9 311.5,109.6 312.1,110.7 312.7,102.9 313.4,101.5 314.0,106.3 314.6,102.7 315.3,102.7 315.9,108.4 316.5,110.7 317.1,104.6 317.8,102.4 318.4,105.4 319.0,94.9 319.7,102.6 320.3,98.0 320.9,120.3 321.6,105.1 322.2,102.5 322.8,100.9 323.4,91.0 324.1,104.4 324.7,108.1 325.3,98.1 326.0,103.9 326.6,104.0 327.2,94.4 327.9,104.7 328.5,106.4 329.1,101.5 329.7,100.1 330.4,103.5 331.0,93.6 331.6,100.6 332.3,104.0 332.9,94.1 333.5,103.2 334.2,97.0 334.8,89.7 335.4,97.7 336.0,93.7 336.7,98.8 337.3,92.1 337.9,101.1 338.6,93.2 339.2,97.3 339.8,92.9 340.5,93.6 341.1,99.5 341.7,95.0 342.3,92.0 343.0,83.7 343.6,97.6 344.2,95.4 344.9,90.5 345.5,92.5 346.1,86.7 346.8,86.3 347.4,86.6 348.0,91.1 348.6,90.4 349.3,85.5 349.9,91.2 350.5,90.9 351.2,87.8 351.8,90.8 352.4,84.7 353.1,84.8 353.7,86.6 354.3,83.8 354.9,86.6 355.6,77.2 356.2,87.7 356.8,75.0 357.5,79.5 358.1,73.5 358.7,81.0 359.4,82.9 360.0,81.2 360.6,79.3 361.2,68.4 361.9,70.7 362.5,71.1 363.1,68.2 363.8,75.8 364.4,70.9 365.0,68.9 365.7,70.0 366.3,62.8 366.9,61.9 367.5,60.9 368.2,65.5 368.8,63.8 369.4,63.7 370.1,64.8 370.7,53.6 371.3,56.0 372.0,58.0 372.6,50.8 373.2,53.3 373.8,58.9 374.5,58.4 375.1,57.5 375.7,52.3 376.4,50.4 377.0,55.0 377.6,48.1 378.3,50.3 378.9,58.2 379.5,46.0 380.1,44.4 380.8,46.3 381.4,48.3 382.0,47.2 382.7,45.3 383.3,46.5 383.9,37.0 384.6,39.6 385.2,43.4 385.8,38.4 386.4,36.4 387.1,32.8 387.7,38.1 388.3,41.2 389.0,37.6 389.6,42.9 390.2,49.1 390.9,41.5 391.5,47.6 392.1,43.6 392.7,37.9 393.4,41.7 394.0,38.9 394.6,46.4 395.3,38.6 395.9,49.3 396.5,46.6 397.2,36.1 397.8,48.4 398.4,52.1 399.0,42.7 399.7,50.7 400.3,33.5 400.9,48.8 401.6,41.3 402.2,50.9 402.8,42.0 403.5,39.1 404.1,52.5 404.7,61.2 405.3,49.8 406.0,56.5 406.6,54.3 407.2,53.3 407.9,58.0 408.5,68.7 409.1,51.9 409.8,60.4 410.4,60.4 411.0,53.9 411.6,67.7 412.3,70.1 412.9,59.0 413.5,71.5 414.2,66.0 414.8,66.3 415.4,74.8 416.1,70.9 416.7,73.0 417.3,79.8 417.9,84.9 418.6,83.6 419.2,72.6 419.8,73.4 420.5,86.2 421.1,79.0 421.7,84.9 422.4,81.2 423.0,86.3 423.6,83.0 424.2,96.7 424.9,87.2 425.5,93.0 426.1,95.0 426.8,103.2 427.4,94.4 428.0,102.3 428.7,103.5 429.3,108.5 429.9,110.0 430.5,107.8 431.2,112.4 431.8,111.3 432.4,116.3 433.1,115.3 433.7,114.3 434.3,118.2 435.0,121.0 435.6,130.1 436.2,119.8 436.8,124.5 437.5,130.7 438.1,117.3 438.7,120.1 439.4,123.7 440.0,129.4 440.6,141.2 441.3,133.6 441.9,138.0 442.5,132.8 443.1,124.2 443.8,125.5 444.4,140.2 445.0,137.3 445.7,131.7 446.3,146.2 446.9,131.8 447.6,143.6 448.2,145.4 448.8,136.6 449.4,135.6 450.1,144.3 450.7,136.6 451.3,145.3 452.0,137.1 452.6,146.0 453.2,143.5 453.9,141.8 454.5,140.4 455.1,145.6 455.7,137.2 456.4,144.5 457.0,144.5 457.6,149.5 458.3,141.9 458.9,154.9 459.5,146.9 460.2,143.9 460.8,155.1 461.4,156.8 462.0,149.5 462.7,147.1 463.3,151.5 463.9,149.1 464.6,151.3 465.2,159.7 465.8,155.4 466.5,154.9 467.1,156.4 467.7,155.2 468.3,159.6 469.0,160.3 469.6,155.6 470.2,158.2 470.9,168.5 471.5,160.6 472.1,158.0 472.8,168.6 473.4,160.6 474.0,156.5 474.6,164.4 475.3,158.4 475.9,160.6 476.5,164.5 477.2,163.1 477.8,160.9 478.4,162.2 479.1,162.5 479.7,170.3 480.3,162.8 480.9,163.8 481.6,175.2 482.2,164.7 482.8,173.7 483.5,173.3 484.1,167.5 484.7,157.9 485.4,170.7 486.0,172.0 486.6,173.7 487.2,170.5 487.9,175.8 488.5,177.3 489.1,168.1 489.8,179.1 490.4,174.9 491.0,172.8 491.7,174.6 492.3,184.2 492.9,181.4 493.5,170.9 494.2,179.0 494.8,178.7 495.4,179.1 496.1,178.3 496.7,175.1 497.3,184.7 498.0,178.1 498.6,180.8 499.2,180.4 499.8,180.4 500.5,186.5 501.1,185.5 501.7,181.9 502.4,181.3 503.0,183.5 503.6,189.4 504.3,186.7 504.9,187.6 505.5,186.0 506.1,186.9 506.8,189.4 507.4,182.5 508.0,196.0 508.7,187.9 509.3,189.4 509.9,197.0 510.6,193.6 511.2,193.5 511.8,191.8 512.4,188.7 513.1,195.5 513.7,199.5 514.3,192.5 515.0,200.9 515.6,192.6 516.2,192.4 516.9,199.3 517.5,198.0 518.1,201.0 518.7,196.6 519.4,196.2 520.0,193.9 520.6,196.8 521.3,197.8 521.9,197.2 522.5,204.5 523.2,200.9 523.8,196.9 524.4,212.4 525.0,201.7 525.7,200.8 526.3,209.5 526.9,209.7 527.6,202.5 528.2,201.8 528.8,203.8 529.5,211.2 530.1,206.9 530.7,205.8 531.3,208.7 532.0,213.0 532.6,205.2 533.2,208.8 533.9,206.1" fill="none" stroke="#154f9a" stroke-width="0.9" stroke-linejoin="round"/>
<polyline points="311.0,255.4 311.5,255.4 312.0,255.4 312.5,255.4 313.0,255.4 313.5,255.4 314.0,255.3 314.5,255.3 315.0,255.3 315.5,255.3 316.0,255.3 316.5,255.3 317.0,255.2 317.5,255.2 318.0,255.2 318.5,255.2 319.0,255.2 319.5,255.1 320.0,255.1 320.5,255.1 321.0,255.0 321.5,255.0 322.0,255.0 322.5,254.9 323.0,254.9 323.5,254.8 324.0,254.8 324.5,254.8 325.0,254.7 325.5,254.6 326.0,254.6 326.5,254.5 327.0,254.5 327.5,254.4 328.0,254.3 328.5,254.2 329.0,254.2 329.5,254.1 330.0,254.0 330.5,253.9 331.0,253.8 331.5,253.7 332.0,253.6 332.5,253.5 333.0,253.4 333.5,253.2 334.0,253.1 334.5,253.0 335.0,252.8 335.5,252.7 336.0,252.6 336.5,252.4 337.0,252.2 337.5,252.1 338.0,251.9 338.5,251.7 339.0,251.5 339.5,251.3 340.0,251.1 340.5,250.9 341.0,250.7 341.5,250.4 342.0,250.2 342.5,249.9 343.0,249.7 343.5,249.4 344.0,249.1 344.5,248.8 345.0,248.5 345.5,248.2 346.0,247.9 346.5,247.6 347.0,247.2 347.5,246.9 348.0,246.5 348.5,246.2 349.0,245.8 349.5,245.4 350.0,245.1 350.5,244.7 351.0,244.3 351.5,243.9 352.0,243.5 352.5,243.1 353.0,242.7 353.5,242.2 354.0,241.8 354.5,241.4 355.0,240.9 355.5,240.4 356.0,240.0 356.5,239.5 357.0,239.0 357.5,238.5 358.0,238.0 358.5,237.4 359.0,236.9 359.5,236.4 360.0,235.8 360.5,235.2 361.0,234.7 361.5,234.1 362.0,233.5 362.5,233.0 363.0,232.4 363.5,231.8 364.0,231.2 364.5,230.7 365.0,230.1 365.5,229.5 366.0,229.0 366.5,228.4 367.0,227.9 367.5,227.3 368.0,226.8 368.5,226.3 369.0,225.8 369.5,225.3 370.0,224.8 370.5,224.4 371.0,224.0 371.5,223.6 372.0,223.2 372.5,222.8 373.0,222.5 373.5,222.2 374.0,222.0 374.5,221.7 375.0,221.6 375.5,221.4 376.0,221.3 376.5,221.2 377.0,221.2 377.5,221.2 378.0,221.2 378.5,221.3 379.0,221.4 379.5,221.6 380.0,221.7 380.5,222.0 381.0,222.2 381.5,222.5 382.0,222.8 382.5,223.1 383.0,223.5 383.5,223.9 384.0,224.4 384.5,224.9 385.0,225.4 385.5,226.0 386.0,226.6 386.5,227.3 387.0,228.0 387.5,228.8 388.0,229.6 388.5,230.5 389.0,231.4 389.5,232.4 390.0,233.3 390.5,234.4 391.0,235.4 391.5,236.5 392.0,237.6 392.5,238.8 393.0,240.0 393.5,241.2 394.0,242.4 394.5,243.7 395.0,245.0 395.5,246.3 396.0,247.6 396.5,249.0 397.0,250.3 397.5,251.7 398.0,253.1 398.5,254.5 399.0,255.9 399.5,257.3 400.0,258.7 400.5,260.1 401.0,261.5 401.5,262.9 402.0,264.3 402.5,265.7 403.0,267.1 403.5,268.5 404.0,269.8 404.5,271.2 405.0,272.5 405.5,273.8 406.0,275.1 406.5,276.4 407.0,277.7 407.5,278.9 408.0,280.2 408.5,281.4 409.0,282.6 409.5,283.7 410.0,284.9 410.5,286.0 411.0,287.1 411.5,288.2 412.0,289.3 412.5,290.3 413.0,291.4 413.5,292.4 414.0,293.4 414.5,294.3 415.0,295.3 415.5,296.2 416.0,297.1 416.5,298.0 417.0,298.9 417.5,299.7 418.0,300.5 418.5,301.3 419.0,302.1 419.5,302.8 420.0,303.6 420.5,304.3 421.0,305.0 421.5,305.7 422.0,306.3 422.5,307.0 423.0,307.6 423.5,308.3 424.0,308.9 424.5,309.5 425.0,310.1 425.5,310.6 426.0,311.2 426.5,311.7 427.0,312.3 427.5,312.8 428.0,313.3 428.5,313.7 429.0,314.2 429.5,314.6 430.0,315.1 430.5,315.5 431.0,315.9 431.5,316.2 432.0,316.6 432.5,316.9 433.0,317.3 433.5,317.6 434.0,317.9 434.5,318.2 435.0,318.5 435.5,318.8 436.0,319.1 436.5,319.4 437.0,319.7 437.5,319.9 438.0,320.2 438.5,320.4 439.0,320.6 439.5,320.9 440.0,321.1 440.5,321.3 441.0,321.5 441.5,321.7 442.0,321.9 442.5,322.1 443.0,322.2 443.5,322.4 444.0,322.6 444.5,322.7 445.0,322.9 445.5,323.0 446.0,323.1 446.5,323.3 447.0,323.4 447.5,323.5 448.0,323.7 448.5,323.8 449.0,323.9 449.5,324.0 450.0,324.1 450.5,324.2 451.0,324.3 451.5,324.4 452.0,324.5 452.5,324.6 453.0,324.7 453.5,324.8 454.0,324.9 454.5,324.9 455.0,325.0 455.5,325.1 456.0,325.2 456.5,325.2 457.0,325.3 457.5,325.4 458.0,325.4 458.5,325.5 459.0,325.6 459.5,325.6 460.0,325.7 460.5,325.7 461.0,325.8 461.5,325.9 462.0,325.9 462.5,326.0 463.0,326.0 463.5,326.1 464.0,326.1 464.5,326.2 465.0,326.2 465.5,326.2 466.0,326.3 466.5,326.3 467.0,326.3 467.5,326.4 468.0,326.4 468.5,326.4 469.0,326.4 469.5,326.5 470.0,326.5 470.5,326.5 471.0,326.5 471.5,326.6 472.0,326.6 472.5,326.6 473.0,326.6 473.5,326.7 474.0,326.7 474.5,326.7 475.0,326.7 475.5,326.7 476.0,326.8 476.5,326.8 477.0,326.8 477.5,326.8 478.0,326.8 478.5,326.8 479.0,326.9 479.5,326.9 480.0,326.9 480.5,326.9 481.0,326.9 481.5,326.9 482.0,326.9 482.5,326.9 483.0,326.9" fill="none" stroke="#72a4d8" stroke-width="1"/>
<polyline points="311.0,255.6 311.5,255.6 312.0,255.6 312.5,255.6 313.0,255.6 313.5,255.6 314.0,255.6 314.5,255.6 315.0,255.6 315.5,255.6 316.0,255.6 316.5,255.6 317.0,255.6 317.5,255.6 318.0,255.6 318.5,255.7 319.0,255.7 319.5,255.7 320.0,255.7 320.5,255.7 321.0,255.7 321.5,255.7 322.0,255.7 322.5,255.7 323.0,255.7 323.5,255.7 324.0,255.8 324.5,255.8 325.0,255.8 325.5,255.8 326.0,255.8 326.5,255.8 327.0,255.8 327.5,255.8 328.0,255.8 328.5,255.9 329.0,255.9 329.5,255.9 330.0,255.9 330.5,255.9 331.0,255.9 331.5,255.9 332.0,256.0 332.5,256.0 333.0,256.0 333.5,256.0 334.0,256.1 334.5,256.1 335.0,256.1 335.5,256.1 336.0,256.2 336.5,256.2 337.0,256.2 337.5,256.3 338.0,256.3 338.5,256.3 339.0,256.4 339.5,256.4 340.0,256.5 340.5,256.5 341.0,256.6 341.5,256.6 342.0,256.6 342.5,256.7 343.0,256.7 343.5,256.8 344.0,256.8 344.5,256.9 345.0,256.9 345.5,257.0 346.0,257.0 346.5,257.1 347.0,257.2 347.5,257.2 348.0,257.3 348.5,257.4 349.0,257.5 349.5,257.6 350.0,257.7 350.5,257.8 351.0,257.9 351.5,258.0 352.0,258.1 352.5,258.2 353.0,258.3 353.5,258.5 354.0,258.6 354.5,258.7 355.0,258.9 355.5,259.0 356.0,259.1 356.5,259.2 357.0,259.4 357.5,259.5 358.0,259.6 358.5,259.7 359.0,259.8 359.5,259.9 360.0,260.0 360.5,260.1 361.0,260.2 361.5,260.3 362.0,260.4 362.5,260.4 363.0,260.5 363.5,260.6 364.0,260.6 364.5,260.7 365.0,260.7 365.5,260.8 366.0,260.8 366.5,260.8 367.0,260.8 367.5,260.9 368.0,260.9 368.5,260.9 369.0,260.8 369.5,260.8 370.0,260.8 370.5,260.8 371.0,260.7 371.5,260.6 372.0,260.6 372.5,260.5 373.0,260.4 373.5,260.3 374.0,260.2 374.5,260.1 375.0,260.0 375.5,259.8 376.0,259.7 376.5,259.5 377.0,259.4 377.5,259.2 378.0,259.0 378.5,258.7 379.0,258.5 379.5,258.2 380.0,257.9 380.5,257.5 381.0,257.1 381.5,256.7 382.0,256.3 382.5,255.8 383.0,255.3 383.5,254.8 384.0,254.2 384.5,253.6 385.0,253.0 385.5,252.4 386.0,251.7 386.5,251.0 387.0,250.2 387.5,249.4 388.0,248.7 388.5,247.8 389.0,247.0 389.5,246.1 390.0,245.3 390.5,244.4 391.0,243.5 391.5,242.5 392.0,241.6 392.5,240.6 393.0,239.7 393.5,238.7 394.0,237.7 394.5,236.8 395.0,235.8 395.5,234.8 396.0,233.9 396.5,232.9 397.0,232.0 397.5,231.1 398.0,230.2 398.5,229.4 399.0,228.6 399.5,227.8 400.0,227.1 400.5,226.4 401.0,225.7 401.5,225.1 402.0,224.5 402.5,224.0 403.0,223.6 403.5,223.2 404.0,222.8 404.5,222.5 405.0,222.3 405.5,222.2 406.0,222.1 406.5,222.1 407.0,222.2 407.5,222.3 408.0,222.5 408.5,222.8 409.0,223.1 409.5,223.6 410.0,224.1 410.5,224.7 411.0,225.4 411.5,226.1 412.0,226.9 412.5,227.7 413.0,228.7 413.5,229.6 414.0,230.7 414.5,231.8 415.0,233.0 415.5,234.2 416.0,235.5 416.5,236.8 417.0,238.1 417.5,239.5 418.0,241.0 418.5,242.5 419.0,244.0 419.5,245.5 420.0,247.1 420.5,248.7 421.0,250.3 421.5,252.0 422.0,253.7 422.5,255.4 423.0,257.1 423.5,258.8 424.0,260.5 424.5,262.2 425.0,264.0 425.5,265.7 426.0,267.4 426.5,269.1 427.0,270.8 427.5,272.5 428.0,274.2 428.5,275.8 429.0,277.4 429.5,279.0 430.0,280.6 430.5,282.2 431.0,283.7 431.5,285.2 432.0,286.6 432.5,288.0 433.0,289.4 433.5,290.8 434.0,292.2 434.5,293.5 435.0,294.7 435.5,296.0 436.0,297.2 436.5,298.4 437.0,299.5 437.5,300.7 438.0,301.7 438.5,302.8 439.0,303.8 439.5,304.8 440.0,305.8 440.5,306.7 441.0,307.6 441.5,308.4 442.0,309.3 442.5,310.1 443.0,310.8 443.5,311.6 444.0,312.3 444.5,313.0 445.0,313.6 445.5,314.2 446.0,314.8 446.5,315.4 447.0,316.0 447.5,316.5 448.0,317.0 448.5,317.5 449.0,318.0 449.5,318.4 450.0,318.9 450.5,319.3 451.0,319.7 451.5,320.0 452.0,320.4 452.5,320.7 453.0,321.1 453.5,321.4 454.0,321.7 454.5,321.9 455.0,322.2 455.5,322.5 456.0,322.7 456.5,322.9 457.0,323.1 457.5,323.4 458.0,323.6 458.5,323.7 459.0,323.9 459.5,324.1 460.0,324.3 460.5,324.4 461.0,324.6 461.5,324.7 462.0,324.8 462.5,325.0 463.0,325.1 463.5,325.2 464.0,325.3 464.5,325.4 465.0,325.5 465.5,325.6 466.0,325.7 466.5,325.8 467.0,325.8 467.5,325.9 468.0,326.0 468.5,326.0 469.0,326.1 469.5,326.1 470.0,326.2 470.5,326.2 471.0,326.3 471.5,326.3 472.0,326.4 472.5,326.4 473.0,326.5 473.5,326.5 474.0,326.5 474.5,326.6 475.0,326.6 475.5,326.6 476.0,326.6 476.5,326.7 477.0,326.7 477.5,326.7 478.0,326.7 478.5,326.8 479.0,326.8 479.5,326.8 480.0,326.8 480.5,326.8 481.0,326.8 481.5,326.9 482.0,326.9 482.5,326.9 483.0,326.9" fill="none" stroke="#abc982" stroke-width="1"/>
<polyline points="311.0,255.6 311.5,255.6 312.0,255.6 312.5,255.6 313.0,255.6 313.5,255.6 314.0,255.6 314.5,255.6 315.0,255.6 315.5,255.6 316.0,255.6 316.5,255.6 317.0,255.6 317.5,255.6 318.0,255.6 318.5,255.7 319.0,255.7 319.5,255.7 320.0,255.7 320.5,255.7 321.0,255.7 321.5,255.7 322.0,255.7 322.5,255.7 323.0,255.7 323.5,255.7 324.0,255.8 324.5,255.8 325.0,255.8 325.5,255.8 326.0,255.8 326.5,255.8 327.0,255.8 327.5,255.8 328.0,255.8 328.5,255.9 329.0,255.9 329.5,255.9 330.0,255.9 330.5,255.9 331.0,255.9 331.5,255.9 332.0,256.0 332.5,256.0 333.0,256.0 333.5,256.0 334.0,256.1 334.5,256.1 335.0,256.1 335.5,256.1 336.0,256.2 336.5,256.2 337.0,256.2 337.5,256.3 338.0,256.3 338.5,256.4 339.0,256.4 339.5,256.4 340.0,256.5 340.5,256.5 341.0,256.6 341.5,256.6 342.0,256.7 342.5,256.7 343.0,256.8 343.5,256.8 344.0,256.9 344.5,257.0 345.0,257.0 345.5,257.1 346.0,257.1 346.5,257.2 347.0,257.3 347.5,257.3 348.0,257.4 348.5,257.5 349.0,257.6 349.5,257.7 350.0,257.9 350.5,258.0 351.0,258.1 351.5,258.2 352.0,258.4 352.5,258.5 353.0,258.7 353.5,258.9 354.0,259.0 354.5,259.2 355.0,259.3 355.5,259.5 356.0,259.7 356.5,259.9 357.0,260.0 357.5,260.2 358.0,260.4 358.5,260.6 359.0,260.7 359.5,260.9 360.0,261.1 360.5,261.3 361.0,261.5 361.5,261.6 362.0,261.8 362.5,262.0 363.0,262.2 363.5,262.4 364.0,262.6 364.5,262.8 365.0,263.0 365.5,263.2 366.0,263.4 366.5,263.6 367.0,263.9 367.5,264.1 368.0,264.3 368.5,264.6 369.0,264.8 369.5,265.1 370.0,265.3 370.5,265.6 371.0,265.8 371.5,266.1 372.0,266.4 372.5,266.7 373.0,267.0 373.5,267.3 374.0,267.7 374.5,268.0 375.0,268.4 375.5,268.8 376.0,269.1 376.5,269.5 377.0,270.0 377.5,270.4 378.0,270.8 378.5,271.2 379.0,271.6 379.5,272.1 380.0,272.5 380.5,273.0 381.0,273.4 381.5,273.8 382.0,274.3 382.5,274.7 383.0,275.1 383.5,275.6 384.0,276.0 384.5,276.4 385.0,276.9 385.5,277.3 386.0,277.7 386.5,278.1 387.0,278.6 387.5,279.0 388.0,279.5 388.5,279.9 389.0,280.4 389.5,280.8 390.0,281.2 390.5,281.7 391.0,282.2 391.5,282.6 392.0,283.1 392.5,283.5 393.0,284.0 393.5,284.5 394.0,284.9 394.5,285.4 395.0,285.9 395.5,286.3 396.0,286.8 396.5,287.3 397.0,287.8 397.5,288.2 398.0,288.7 398.5,289.2 399.0,289.7 399.5,290.2 400.0,290.8 400.5,291.3 401.0,291.8 401.5,292.3 402.0,292.8 402.5,293.3 403.0,293.8 403.5,294.3 404.0,294.8 404.5,295.4 405.0,295.9 405.5,296.4 406.0,296.9 406.5,297.4 407.0,297.8 407.5,298.3 408.0,298.8 408.5,299.3 409.0,299.7 409.5,300.2 410.0,300.7 410.5,301.2 411.0,301.6 411.5,302.1 412.0,302.6 412.5,303.1 413.0,303.5 413.5,304.0 414.0,304.4 414.5,304.9 415.0,305.3 415.5,305.8 416.0,306.2 416.5,306.7 417.0,307.1 417.5,307.5 418.0,308.0 418.5,308.4 419.0,308.8 419.5,309.2 420.0,309.6 420.5,310.0 421.0,310.4 421.5,310.8 422.0,311.2 422.5,311.6 423.0,312.0 423.5,312.3 424.0,312.7 424.5,313.1 425.0,313.5 425.5,313.9 426.0,314.2 426.5,314.6 427.0,314.9 427.5,315.3 428.0,315.6 428.5,315.9 429.0,316.3 429.5,316.6 430.0,316.9 430.5,317.2 431.0,317.5 431.5,317.7 432.0,318.0 432.5,318.3 433.0,318.5 433.5,318.7 434.0,319.0 434.5,319.2 435.0,319.5 435.5,319.7 436.0,319.9 436.5,320.1 437.0,320.3 437.5,320.5 438.0,320.7 438.5,320.9 439.0,321.1 439.5,321.3 440.0,321.4 440.5,321.5 441.0,321.6 441.5,321.6 442.0,321.6 442.5,321.5 443.0,321.4 443.5,321.1 444.0,320.8 444.5,320.3 445.0,319.8 445.5,319.2 446.0,318.6 446.5,317.9 447.0,317.3 447.5,316.8 448.0,316.4 448.5,316.2 449.0,316.3 449.5,316.4 450.0,316.5 450.5,316.6 451.0,316.7 451.5,316.9 452.0,317.0 452.5,317.2 453.0,317.3 453.5,317.5 454.0,317.6 454.5,317.8 455.0,318.0 455.5,318.2 456.0,318.4 456.5,318.5 457.0,318.7 457.5,318.9 458.0,319.1 458.5,319.3 459.0,319.5 459.5,319.7 460.0,319.9 460.5,320.2 461.0,320.4 461.5,320.6 462.0,320.8 462.5,321.0 463.0,321.2 463.5,321.4 464.0,321.6 464.5,321.8 465.0,322.0 465.5,322.2 466.0,322.4 466.5,322.6 467.0,322.7 467.5,322.9 468.0,323.1 468.5,323.2 469.0,323.4 469.5,323.6 470.0,323.7 470.5,323.9 471.0,324.0 471.5,324.2 472.0,324.3 472.5,324.4 473.0,324.6 473.5,324.7 474.0,324.8 474.5,324.9 475.0,325.0 475.5,325.2 476.0,325.3 476.5,325.4 477.0,325.5 477.5,325.5 478.0,325.6 478.5,325.7 479.0,325.8 479.5,325.9 480.0,325.9 480.5,326.0 481.0,326.1 481.5,326.1 482.0,326.2 482.5,326.2 483.0,326.3" fill="none" stroke="#e98585" stroke-width="1"/>
<polyline points="311.0,255.6 311.5,255.6 312.0,255.6 312.5,255.6 313.0,255.6 313.5,255.6 314.0,255.6 314.5,255.6 315.0,255.6 315.5,255.6 316.0,255.6 316.5,255.6 317.0,255.6 317.5,255.6 318.0,255.6 318.5,255.7 319.0,255.7 319.5,255.7 320.0,255.7 320.5,255.7 321.0,255.7 321.5,255.7 322.0,255.7 322.5,255.7 323.0,255.7 323.5,255.7 324.0,255.8 324.5,255.8 325.0,255.8 325.5,255.8 326.0,255.8 326.5,255.8 327.0,255.8 327.5,255.8 328.0,255.8 328.5,255.9 329.0,255.9 329.5,255.9 330.0,255.9 330.5,255.9 331.0,255.9 331.5,255.9 332.0,256.0 332.5,256.0 333.0,256.0 333.5,256.0 334.0,256.1 334.5,256.1 335.0,256.1 335.5,256.1 336.0,256.2 336.5,256.2 337.0,256.2 337.5,256.3 338.0,256.3 338.5,256.4 339.0,256.4 339.5,256.4 340.0,256.5 340.5,256.5 341.0,256.6 341.5,256.6 342.0,256.7 342.5,256.7 343.0,256.8 343.5,256.8 344.0,256.9 344.5,257.0 345.0,257.0 345.5,257.1 346.0,257.1 346.5,257.2 347.0,257.3 347.5,257.3 348.0,257.4 348.5,257.5 349.0,257.6 349.5,257.7 350.0,257.9 350.5,258.0 351.0,258.1 351.5,258.2 352.0,258.4 352.5,258.5 353.0,258.7 353.5,258.9 354.0,259.0 354.5,259.2 355.0,259.3 355.5,259.5 356.0,259.7 356.5,259.9 357.0,260.0 357.5,260.2 358.0,260.4 358.5,260.6 359.0,260.7 359.5,260.9 360.0,261.1 360.5,261.3 361.0,261.5 361.5,261.6 362.0,261.8 362.5,262.0 363.0,262.2 363.5,262.4 364.0,262.6 364.5,262.8 365.0,263.0 365.5,263.2 366.0,263.4 366.5,263.6 367.0,263.9 367.5,264.1 368.0,264.3 368.5,264.6 369.0,264.8 369.5,265.1 370.0,265.3 370.5,265.6 371.0,265.8 371.5,266.1 372.0,266.4 372.5,266.7 373.0,267.0 373.5,267.3 374.0,267.7 374.5,268.0 375.0,268.4 375.5,268.8 376.0,269.1 376.5,269.5 377.0,270.0 377.5,270.4 378.0,270.8 378.5,271.2 379.0,271.6 379.5,272.1 380.0,272.5 380.5,273.0 381.0,273.4 381.5,273.8 382.0,274.3 382.5,274.7 383.0,275.1 383.5,275.6 384.0,276.0 384.5,276.4 385.0,276.9 385.5,277.3 386.0,277.7 386.5,278.1 387.0,278.6 387.5,279.0 388.0,279.5 388.5,279.9 389.0,280.4 389.5,280.8 390.0,281.2 390.5,281.7 391.0,282.2 391.5,282.6 392.0,283.1 392.5,283.5 393.0,284.0 393.5,284.5 394.0,284.9 394.5,285.4 395.0,285.9 395.5,286.3 396.0,286.8 396.5,287.3 397.0,287.8 397.5,288.2 398.0,288.7 398.5,289.2 399.0,289.7 399.5,290.2 400.0,290.8 400.5,291.3 401.0,291.8 401.5,292.3 402.0,292.8 402.5,293.3 403.0,293.8 403.5,294.3 404.0,294.8 404.5,295.4 405.0,295.9 405.5,296.4 406.0,296.9 406.5,297.4 407.0,297.8 407.5,298.3 408.0,298.8 408.5,299.3 409.0,299.7 409.5,300.2 410.0,300.7 410.5,301.2 411.0,301.6 411.5,302.1 412.0,302.6 412.5,303.1 413.0,303.5 413.5,304.0 414.0,304.4 414.5,304.9 415.0,305.3 415.5,305.8 416.0,306.2 416.5,306.7 417.0,307.1 417.5,307.5 418.0,308.0 418.5,308.4 419.0,308.8 419.5,309.2 420.0,309.6 420.5,310.0 421.0,310.4 421.5,310.8 422.0,311.2 422.5,311.6 423.0,312.0 423.5,312.3 424.0,312.7 424.5,313.1 425.0,313.5 425.5,313.9 426.0,314.2 426.5,314.6 427.0,314.9 427.5,315.3 428.0,315.6 428.5,315.9 429.0,316.3 429.5,316.6 430.0,316.9 430.5,317.2 431.0,317.5 431.5,317.7 432.0,318.0 432.5,318.3 433.0,318.5 433.5,318.7 434.0,319.0 434.5,319.2 435.0,319.5 435.5,319.7 436.0,319.9 436.5,320.1 437.0,320.3 437.5,320.6 438.0,320.8 438.5,321.0 439.0,321.2 439.5,321.3 440.0,321.5 440.5,321.7 441.0,321.9 441.5,322.1 442.0,322.2 442.5,322.4 443.0,322.5 443.5,322.7 444.0,322.8 444.5,322.9 445.0,323.1 445.5,323.2 446.0,323.3 446.5,323.4 447.0,323.6 447.5,323.7 448.0,323.8 448.5,323.9 449.0,324.0 449.5,324.1 450.0,324.2 450.5,324.3 451.0,324.4 451.5,324.5 452.0,324.6 452.5,324.7 453.0,324.8 453.5,324.8 454.0,324.9 454.5,325.0 455.0,325.1 455.5,325.1 456.0,325.2 456.5,325.3 457.0,325.3 457.5,325.4 458.0,325.5 458.5,325.5 459.0,325.6 459.5,325.6 460.0,325.7 460.5,325.8 461.0,325.8 461.5,325.9 462.0,325.9 462.5,326.0 463.0,326.0 463.5,326.1 464.0,326.1 464.5,326.2 465.0,326.2 465.5,326.2 466.0,326.3 466.5,326.3 467.0,326.3 467.5,326.4 468.0,326.4 468.5,326.4 469.0,326.5 469.5,326.5 470.0,326.5 470.5,326.5 471.0,326.5 471.5,326.6 472.0,326.6 472.5,326.6 473.0,326.6 473.5,326.7 474.0,326.7 474.5,326.7 475.0,326.7 475.5,326.7 476.0,326.8 476.5,326.8 477.0,326.8 477.5,326.8 478.0,326.8 478.5,326.8 479.0,326.9 479.5,326.9 480.0,326.9 480.5,326.9 481.0,326.9 481.5,326.9 482.0,326.9 482.5,326.9 483.0,326.9" fill="none" stroke="#c99a74" stroke-width="1.15"/>
<polyline points="311.0,255.7 311.5,255.8 312.0,255.8 312.5,255.9 313.0,255.9 313.5,255.9 314.0,256.0 314.5,256.0 315.0,256.0 315.5,256.1 316.0,256.1 316.5,256.1 317.0,256.2 317.5,256.2 318.0,256.2 318.5,256.2 319.0,256.2 319.5,256.2 320.0,256.3 320.5,256.3 321.0,256.3 321.5,256.3 322.0,256.3 322.5,256.3 323.0,256.3 323.5,256.3 324.0,256.3 324.5,256.3 325.0,256.3 325.5,256.3 326.0,256.3 326.5,256.2 327.0,256.2 327.5,256.2 328.0,256.2 328.5,256.1 329.0,256.1 329.5,256.1 330.0,256.0 330.5,256.0 331.0,255.9 331.5,255.7 332.0,255.5 332.5,255.2 333.0,254.9 333.5,254.6 334.0,254.3 334.5,253.9 335.0,253.6 335.5,253.3 336.0,252.9 336.5,252.6 337.0,252.3 337.5,252.0 338.0,251.7 338.5,251.4 339.0,251.1 339.5,250.8 340.0,250.5 340.5,250.2 341.0,249.9 341.5,249.6 342.0,249.3 342.5,249.0 343.0,248.7 343.5,248.4 344.0,248.1 344.5,247.8 345.0,247.5 345.5,247.2 346.0,246.9 346.5,246.6 347.0,246.3 347.5,246.0 348.0,245.7 348.5,245.4 349.0,245.1 349.5,244.8 350.0,244.4 350.5,244.1 351.0,243.7 351.5,243.3 352.0,242.9 352.5,242.5 353.0,242.1 353.5,241.7 354.0,241.3 354.5,240.8 355.0,240.3 355.5,239.8 356.0,239.2 356.5,238.7 357.0,238.1 357.5,237.5 358.0,236.8 358.5,236.2 359.0,235.5 359.5,234.8 360.0,234.2 360.5,233.5 361.0,232.8 361.5,232.1 362.0,231.5 362.5,230.8 363.0,230.1 363.5,229.5 364.0,228.8 364.5,228.2 365.0,227.5 365.5,226.9 366.0,226.2 366.5,225.6 367.0,224.9 367.5,224.2 368.0,223.6 368.5,222.9 369.0,222.2 369.5,221.6 370.0,220.9 370.5,220.2 371.0,219.5 371.5,218.9 372.0,218.2 372.5,217.5 373.0,216.7 373.5,216.0 374.0,215.3 374.5,214.7 375.0,214.0 375.5,213.4 376.0,212.7 376.5,212.1 377.0,211.5 377.5,210.9 378.0,210.4 378.5,209.8 379.0,209.2 379.5,208.7 380.0,208.1 380.5,207.6 381.0,207.0 381.5,206.5 382.0,206.0 382.5,205.4 383.0,204.9 383.5,204.4 384.0,203.8 384.5,203.3 385.0,202.8 385.5,202.3 386.0,201.8 386.5,201.4 387.0,200.9 387.5,200.5 388.0,200.1 388.5,199.7 389.0,199.4 389.5,199.0 390.0,198.6 390.5,198.2 391.0,197.9 391.5,197.5 392.0,197.2 392.5,197.0 393.0,196.7 393.5,196.5 394.0,196.4 394.5,196.3 395.0,196.2 395.5,196.1 396.0,196.1 396.5,196.0 397.0,195.9 397.5,195.9 398.0,195.8 398.5,195.8 399.0,195.8 399.5,195.7 400.0,195.7 400.5,195.7 401.0,195.7 401.5,195.8 402.0,195.9 402.5,196.1 403.0,196.4 403.5,196.7 404.0,197.1 404.5,197.5 405.0,197.9 405.5,198.4 406.0,198.9 406.5,199.4 407.0,200.0 407.5,200.8 408.0,201.8 408.5,202.9 409.0,204.1 409.5,205.3 410.0,206.5 410.5,207.6 411.0,208.9 411.5,210.2 412.0,211.5 412.5,212.8 413.0,214.2 413.5,215.6 414.0,217.1 414.5,218.6 415.0,220.1 415.5,221.7 416.0,223.3 416.5,224.8 417.0,226.4 417.5,227.9 418.0,229.4 418.5,231.0 419.0,232.6 419.5,234.3 420.0,236.1 420.5,237.9 421.0,239.8 421.5,241.8 422.0,243.9 422.5,246.1 423.0,248.6 423.5,251.1 424.0,253.6 424.5,256.1 425.0,258.5 425.5,260.9 426.0,263.3 426.5,265.6 427.0,268.0 427.5,270.2 428.0,272.4 428.5,274.4 429.0,276.3 429.5,278.1 430.0,279.9 430.5,281.6 431.0,283.3 431.5,284.9 432.0,286.4 432.5,287.9 433.0,289.4 433.5,290.9 434.0,292.2 434.5,293.5 435.0,294.7 435.5,295.9 436.0,297.1 436.5,298.2 437.0,299.4 437.5,300.4 438.0,301.4 438.5,302.3 439.0,303.1 439.5,303.8 440.0,304.4 440.5,305.0 441.0,305.6 441.5,306.1 442.0,306.6 442.5,307.1 443.0,307.6 443.5,308.0 444.0,308.5 444.5,308.9 445.0,309.3 445.5,309.7 446.0,310.1 446.5,310.5 447.0,310.8 447.5,311.2 448.0,311.5 448.5,311.8 449.0,312.1 449.5,312.4 450.0,312.7 450.5,312.9 451.0,313.2 451.5,313.5 452.0,313.7 452.5,314.0 453.0,314.2 453.5,314.4 454.0,314.7 454.5,314.9 455.0,315.1 455.5,315.3 456.0,315.5 456.5,315.8 457.0,316.0 457.5,316.2 458.0,316.4 458.5,316.6 459.0,316.8 459.5,317.0 460.0,317.2 460.5,317.4 461.0,317.6 461.5,317.8 462.0,318.0 462.5,318.1 463.0,318.3 463.5,318.5 464.0,318.7 464.5,318.8 465.0,319.0 465.5,319.1 466.0,319.3 466.5,319.5 467.0,319.6 467.5,319.8 468.0,319.9 468.5,320.1 469.0,320.3 469.5,320.4 470.0,320.6 470.5,320.8 471.0,320.9 471.5,321.1 472.0,321.3 472.5,321.5 473.0,321.7 473.5,321.9 474.0,322.1 474.5,322.3 475.0,322.5 475.5,322.7 476.0,322.9 476.5,323.1 477.0,323.3 477.5,323.5 478.0,323.7 478.5,323.9 479.0,324.2 479.5,324.4 480.0,324.6 480.5,324.8 481.0,325.1 481.5,325.3 482.0,325.5 482.5,325.8 483.0,326.0" fill="none" stroke="#cc9060" stroke-width="1.0"/>
<polyline points="30.5,286.6 31.1,278.8 31.8,286.4 32.4,279.8 33.0,292.9 33.6,277.7 34.3,290.1 34.9,288.4 35.5,277.7 36.2,284.3 36.8,291.5 37.4,290.3 38.1,278.6 38.7,283.5 39.3,280.8 39.9,281.4 40.6,283.0 41.2,293.5 41.8,286.3 42.5,284.8 43.1,284.3 43.7,288.5 44.4,288.6 45.0,281.8 45.6,291.8 46.2,281.0 46.9,284.4 47.5,287.4 48.1,292.7 48.8,284.0 49.4,286.6 50.0,295.0 50.7,287.9 51.3,290.0 51.9,289.6 52.5,286.2 53.2,287.7 53.8,288.9 54.4,284.8 55.1,291.6 55.7,269.5 56.3,280.7 57.0,290.5 57.6,286.0 58.2,281.3 58.8,285.4 59.5,288.2 60.1,281.0 60.7,286.4 61.4,282.4 62.0,282.3 62.6,282.3 63.3,287.0 63.9,277.5 64.5,280.5 65.1,284.7 65.8,276.7 66.4,275.1 67.0,284.1 67.7,281.7 68.3,280.3 68.9,282.2 69.6,274.0 70.2,293.8 70.8,273.9 71.4,279.7 72.1,275.5 72.7,279.8 73.3,287.9 74.0,281.5 74.6,284.0 75.2,279.4 75.9,289.0 76.5,282.1 77.1,276.1 77.7,284.6 78.4,279.8 79.0,283.8 79.6,282.1 80.3,282.3 80.9,281.6 81.5,277.1 82.2,269.2 82.8,284.6 83.4,279.7 84.0,281.2 84.7,277.8 85.3,271.0 85.9,269.3 86.6,284.7 87.2,275.2 87.8,276.5 88.5,271.6 89.1,275.3 89.7,275.6 90.3,275.9 91.0,276.2 91.6,273.6 92.2,273.6 92.9,275.7 93.5,276.9 94.1,274.8 94.8,282.6 95.4,276.0 96.0,275.7 96.6,272.2 97.3,279.2 97.9,270.5 98.5,268.0 99.2,270.6 99.8,277.3 100.4,269.8 101.1,280.0 101.7,274.4 102.3,268.1 102.9,273.4 103.6,281.8 104.2,270.7 104.8,268.7 105.5,276.3 106.1,279.6 106.7,278.3 107.4,271.2 108.0,274.7 108.6,275.2 109.2,278.6 109.9,282.6 110.5,273.0 111.1,278.8 111.8,271.8 112.4,275.5 113.0,269.0 113.7,269.6 114.3,274.4 114.9,268.7 115.5,276.1 116.2,269.9 116.8,272.4 117.4,271.6 118.1,270.5 118.7,272.3 119.3,276.2 120.0,284.6 120.6,266.5 121.2,272.7 121.8,270.7 122.5,267.5 123.1,272.5 123.7,267.6 124.4,270.9 125.0,276.4 125.6,262.7 126.3,272.2 126.9,273.0 127.5,267.1 128.1,273.2 128.8,272.5 129.4,269.5 130.0,276.0 130.7,265.4 131.3,273.6 131.9,269.9 132.6,266.4 133.2,270.0 133.8,269.2 134.4,274.1 135.1,264.3 135.7,269.7 136.3,268.5 137.0,277.0 137.6,265.6 138.2,274.6 138.9,262.7 139.5,271.5 140.1,269.4 140.7,271.4 141.4,266.8 142.0,261.5 142.6,263.1 143.3,275.0 143.9,270.3 144.5,265.6 145.2,273.0 145.8,266.0 146.4,265.9 147.0,259.5 147.7,273.8 148.3,277.0 148.9,264.6 149.6,269.8 150.2,275.6 150.8,277.3 151.5,258.3 152.1,268.8 152.7,270.9 153.3,261.9 154.0,269.7 154.6,268.7 155.2,270.9 155.9,265.3 156.5,269.4 157.1,265.0 157.8,270.0 158.4,268.0 159.0,265.7 159.6,261.2 160.3,274.0 160.9,271.6 161.5,270.5 162.2,263.9 162.8,263.6 163.4,273.5 164.1,269.4 164.7,259.4 165.3,266.2 165.9,266.5 166.6,264.9 167.2,261.6 167.8,270.7 168.5,267.8 169.1,264.3 169.7,258.4 170.4,262.4 171.0,264.7 171.6,268.2 172.2,262.9 172.9,269.0 173.5,264.8 174.1,261.0 174.8,252.3 175.4,259.0 176.0,257.5 176.7,263.1 177.3,265.0 177.9,269.3 178.5,263.4 179.2,258.5 179.8,273.1 180.4,264.4 181.1,261.9 181.7,261.8 182.3,257.1 183.0,265.3 183.6,264.0 184.2,269.0 184.8,266.7 185.5,265.6 186.1,267.0 186.7,260.2 187.4,259.1 188.0,260.2 188.6,254.6 189.3,258.6 189.9,257.2 190.5,260.8 191.1,257.4 191.8,248.9 192.4,256.6 193.0,262.0 193.7,248.0 194.3,252.1 194.9,255.0 195.6,249.0 196.2,252.0 196.8,254.2 197.4,248.0 198.1,254.5 198.7,254.6 199.3,247.2 200.0,252.2 200.6,256.3 201.2,250.6 201.9,252.8 202.5,253.3 203.1,249.3 203.7,254.0 204.4,251.1 205.0,245.0 205.6,251.0 206.3,252.0 206.9,251.4 207.5,245.0 208.2,249.2 208.8,257.2 209.4,247.6 210.0,251.2 210.7,251.3 211.3,245.3 211.9,247.8 212.6,243.3 213.2,248.6 213.8,243.2 214.5,240.8 215.1,242.5 215.7,241.8 216.3,243.2 217.0,243.1 217.6,235.8 218.2,237.6 218.9,241.5 219.5,241.6 220.1,239.6 220.8,250.0 221.4,243.3 222.0,238.0 222.6,241.1 223.3,243.4 223.9,239.1 224.5,229.9 225.2,237.4 225.8,237.0 226.4,245.6 227.1,228.7 227.7,242.7 228.3,235.4 228.9,239.8 229.6,234.4 230.2,236.2 230.8,240.0 231.5,235.4 232.1,239.2 232.7,234.1 233.4,232.3 234.0,232.7 234.6,231.2 235.2,232.4 235.9,238.3 236.5,227.4 237.1,225.2 237.8,232.0 238.4,239.1 239.0,236.5 239.7,237.8 240.3,237.6 240.9,229.4 241.5,233.1 242.2,221.6 242.8,230.5 243.4,237.9 244.1,226.9 244.7,225.1 245.3,228.6 246.0,235.4 246.6,239.9 247.2,246.4 247.8,242.1 248.5,230.4 249.1,227.6 249.7,238.7 250.4,243.1 251.0,232.4 251.6,237.6 252.3,238.5 252.9,241.1 253.5,240.8 254.1,244.4 254.8,247.3 255.4,243.8 256.0,247.3 256.7,253.2 257.3,241.2 257.9,241.9 258.6,249.3 259.2,262.2 259.8,249.6 260.4,254.4 261.1,249.4 261.7,255.4 262.3,249.8 263.0,256.0 263.6,255.6 264.2,256.2 264.9,261.0 265.5,260.4 266.1,252.3 266.7,260.8 267.4,250.6 268.0,262.4 268.6,279.7 269.3,261.2 269.9,261.4 270.5,259.6 271.2,263.0 271.8,257.7 272.4,262.5 273.0,258.6 273.7,258.1 274.3,260.4 274.9,259.7 275.6,252.7 276.2,268.8 276.8,260.7 277.5,253.0 278.1,264.7 278.7,260.1 279.3,261.1 280.0,263.2 280.6,256.5 281.2,247.9 281.9,259.9 282.5,261.3 283.1,264.5 283.8,257.2 284.4,259.3 285.0,262.2 285.6,259.3 286.3,259.7 286.9,261.9 287.5,256.8 288.2,267.7 288.8,254.5 289.4,261.3 290.1,259.7 290.7,258.1 291.3,263.2 291.9,265.0 292.6,266.7 293.2,262.9 293.8,258.3 294.5,263.6 295.1,253.7 295.7,259.7 296.4,263.6 297.0,261.4 297.6,254.0 298.2,252.4 298.9,265.5 299.5,256.2 300.1,251.2 300.8,252.8 301.4,257.8 302.0,262.6 302.7,257.4 303.3,262.3 303.9,258.1 304.5,259.0 305.2,261.0 305.8,255.2 306.4,259.2 307.1,254.9 307.7,253.7 308.3,259.1 309.0,252.8 309.6,256.5 310.2,252.8 310.8,255.7 311.5,253.9 312.1,260.7 312.7,256.5 313.4,256.6 314.0,269.0 314.6,234.7 315.3,251.7 315.9,244.9 316.5,256.4 317.1,258.3 317.8,259.1 318.4,257.6 319.0,252.8 319.7,263.8 320.3,257.7 320.9,255.4 321.6,251.8 322.2,258.2 322.8,254.4 323.4,254.6 324.1,257.3 324.7,257.3 325.3,253.0 326.0,261.7 326.6,252.2 327.2,251.7 327.9,257.6 328.5,256.8 329.1,256.5 329.7,254.4 330.4,256.2 331.0,253.5 331.6,248.8 332.3,258.6 332.9,250.8 333.5,253.7 334.2,257.3 334.8,254.1 335.4,265.0 336.0,247.2 336.7,249.5 337.3,252.6 337.9,257.5 338.6,250.4 339.2,245.1 339.8,255.5 340.5,246.4 341.1,249.1 341.7,253.2 342.3,246.3 343.0,246.8 343.6,250.4 344.2,247.1 344.9,248.8 345.5,243.3 346.1,246.4 346.8,241.9 347.4,239.6 348.0,253.1 348.6,247.3 349.3,248.8 349.9,240.5 350.5,243.9 351.2,242.7 351.8,237.1 352.4,244.9 353.1,239.1 353.7,240.7 354.3,234.6 354.9,244.5 355.6,242.9 356.2,240.7 356.8,234.5 357.5,235.3 358.1,241.9 358.7,234.7 359.4,236.2 360.0,234.8 360.6,228.6 361.2,238.9 361.9,223.3 362.5,231.8 363.1,229.6 363.8,222.3 364.4,229.7 365.0,229.7 365.7,226.9 366.3,222.4 366.9,226.9 367.5,228.9 368.2,224.3 368.8,229.8 369.4,228.2 370.1,224.0 370.7,225.8 371.3,216.3 372.0,216.0 372.6,219.5 373.2,218.7 373.8,221.9 374.5,219.5 375.1,214.6 375.7,214.0 376.4,211.2 377.0,208.8 377.6,208.9 378.3,213.9 378.9,207.4 379.5,207.2 380.1,208.7 380.8,205.2 381.4,205.7 382.0,196.8 382.7,206.9 383.3,203.4 383.9,204.8 384.6,204.9 385.2,195.0 385.8,212.2 386.4,202.2 387.1,201.8 387.7,193.1 388.3,202.7 389.0,201.4 389.6,197.8 390.2,199.9 390.9,203.8 391.5,195.9 392.1,193.9 392.7,203.0 393.4,198.3 394.0,196.3 394.6,206.6 395.3,197.4 395.9,196.0 396.5,199.1 397.2,194.8 397.8,197.3 398.4,197.0 399.0,191.9 399.7,195.3 400.3,197.7 400.9,197.9 401.6,198.8 402.2,199.8 402.8,197.9 403.5,199.4 404.1,196.1 404.7,197.1 405.3,203.1 406.0,191.0 406.6,201.6 407.2,214.1 407.9,194.2 408.5,209.6 409.1,197.4 409.8,207.8 410.4,214.6 411.0,215.6 411.6,207.1 412.3,207.1 412.9,208.3 413.5,219.1 414.2,216.3 414.8,219.8 415.4,222.8 416.1,225.4 416.7,229.8 417.3,228.0 417.9,222.7 418.6,237.6 419.2,213.0 419.8,240.9 420.5,235.5 421.1,239.5 421.7,240.7 422.4,244.1 423.0,248.6 423.6,250.7 424.2,250.4 424.9,261.7 425.5,258.7 426.1,269.8 426.8,266.5 427.4,267.0 428.0,274.4 428.7,278.8 429.3,273.6 429.9,277.8 430.5,292.9 431.2,279.9 431.8,282.5 432.4,288.7 433.1,284.7 433.7,281.2 434.3,286.2 435.0,296.4 435.6,299.1 436.2,300.3 436.8,300.8 437.5,295.3 438.1,304.5 438.7,307.6 439.4,300.8 440.0,308.6 440.6,303.8 441.3,306.8 441.9,308.2 442.5,301.1 443.1,314.0 443.8,304.8 444.4,308.5 445.0,307.4 445.7,311.9 446.3,312.3 446.9,311.0 447.6,317.3 448.2,313.0 448.8,310.5 449.4,300.4 450.1,311.7 450.7,312.0 451.3,309.9 452.0,310.3 452.6,316.7 453.2,318.9 453.9,322.7 454.5,319.9 455.1,312.4 455.7,316.7 456.4,310.2 457.0,319.2 457.6,317.9 458.3,314.1 458.9,316.5 459.5,316.1 460.2,314.7 460.8,323.2 461.4,331.0 462.0,321.6 462.7,322.8 463.3,319.3 463.9,317.3 464.6,328.2 465.2,317.7 465.8,321.1 466.5,319.1 467.1,322.3 467.7,319.8 468.3,322.7 469.0,315.1 469.6,320.2 470.2,326.6 470.9,316.7 471.5,318.5 472.1,327.3 472.8,323.5 473.4,326.5 474.0,312.9 474.6,323.1 475.3,317.4 475.9,317.2 476.5,325.0 477.2,328.5 477.8,317.5 478.4,319.4 479.1,321.9 479.7,324.1 480.3,315.0 480.9,334.7 481.6,328.0 482.2,324.3 482.8,323.9 483.5,336.1 484.1,336.0 484.7,324.9 485.4,329.9 486.0,332.7 486.6,322.9 487.2,325.6 487.9,333.9 488.5,325.8 489.1,327.2 489.8,323.7 490.4,326.4 491.0,334.9 491.7,326.8 492.3,325.2 492.9,328.3 493.5,338.3 494.2,332.3 494.8,329.8 495.4,333.1 496.1,336.1 496.7,333.8 497.3,326.7 498.0,336.4 498.6,333.9 499.2,338.5 499.8,330.5 500.5,340.3 501.1,334.8 501.7,330.7 502.4,342.9 503.0,336.3 503.6,340.2 504.3,338.7 504.9,343.9 505.5,344.3 506.1,348.1 506.8,343.6 507.4,335.3 508.0,335.5 508.7,342.8 509.3,338.9 509.9,344.5 510.6,343.7 511.2,338.4 511.8,340.1 512.4,340.2 513.1,341.4 513.7,344.3 514.3,349.8 515.0,350.6 515.6,342.7 516.2,344.5 516.9,352.4 517.5,350.4 518.1,348.5 518.7,339.8 519.4,344.9 520.0,349.3 520.6,347.1 521.3,356.3 521.9,350.2 522.5,351.2 523.2,347.0 523.8,347.6 524.4,349.4 525.0,350.0 525.7,351.8 526.3,355.4 526.9,354.4 527.6,357.5 528.2,350.2 528.8,355.9 529.5,356.6 530.1,361.5 530.7,356.2 531.3,358.5 532.0,355.4 532.6,360.0 533.2,360.5 533.9,357.9" fill="none" stroke="#0f9333" stroke-width="0.9" stroke-linejoin="round"/>
<polyline points="311.0,412.9 311.5,412.9 312.0,412.9 312.5,412.9 313.0,412.9 313.5,412.9 314.0,412.9 314.5,412.9 315.0,412.9 315.5,412.9 316.0,412.9 316.5,412.9 317.0,412.9 317.5,412.8 318.0,412.8 318.5,412.8 319.0,412.8 319.5,412.8 320.0,412.8 320.5,412.7 321.0,412.7 321.5,412.7 322.0,412.6 322.5,412.6 323.0,412.6 323.5,412.5 324.0,412.5 324.5,412.4 325.0,412.4 325.5,412.3 326.0,412.3 326.5,412.2 327.0,412.1 327.5,412.0 328.0,411.9 328.5,411.8 329.0,411.8 329.5,411.6 330.0,411.5 330.5,411.4 331.0,411.3 331.5,411.2 332.0,411.0 332.5,410.9 333.0,410.7 333.5,410.6 334.0,410.4 334.5,410.2 335.0,410.0 335.5,409.8 336.0,409.6 336.5,409.4 337.0,409.2 337.5,409.0 338.0,408.7 338.5,408.5 339.0,408.2 339.5,407.9 340.0,407.6 340.5,407.3 341.0,407.0 341.5,406.7 342.0,406.3 342.5,406.0 343.0,405.6 343.5,405.3 344.0,404.9 344.5,404.5 345.0,404.0 345.5,403.6 346.0,403.2 346.5,402.7 347.0,402.2 347.5,401.8 348.0,401.3 348.5,400.7 349.0,400.2 349.5,399.7 350.0,399.1 350.5,398.6 351.0,398.0 351.5,397.4 352.0,396.8 352.5,396.2 353.0,395.5 353.5,394.9 354.0,394.2 354.5,393.6 355.0,392.9 355.5,392.2 356.0,391.5 356.5,390.9 357.0,390.2 357.5,389.5 358.0,388.8 358.5,388.1 359.0,387.3 359.5,386.6 360.0,385.9 360.5,385.2 361.0,384.5 361.5,383.8 362.0,383.1 362.5,382.4 363.0,381.7 363.5,381.0 364.0,380.3 364.5,379.6 365.0,378.9 365.5,378.3 366.0,377.6 366.5,377.0 367.0,376.4 367.5,375.8 368.0,375.2 368.5,374.7 369.0,374.2 369.5,373.7 370.0,373.2 370.5,372.8 371.0,372.4 371.5,372.0 372.0,371.7 372.5,371.4 373.0,371.1 373.5,370.9 374.0,370.8 374.5,370.6 375.0,370.6 375.5,370.5 376.0,370.6 376.5,370.6 377.0,370.7 377.5,370.9 378.0,371.1 378.5,371.3 379.0,371.6 379.5,371.9 380.0,372.3 380.5,372.7 381.0,373.1 381.5,373.6 382.0,374.1 382.5,374.7 383.0,375.3 383.5,375.9 384.0,376.5 384.5,377.2 385.0,377.9 385.5,378.7 386.0,379.5 386.5,380.3 387.0,381.2 387.5,382.1 388.0,383.1 388.5,384.0 389.0,385.0 389.5,386.0 390.0,387.1 390.5,388.1 391.0,389.2 391.5,390.3 392.0,391.4 392.5,392.6 393.0,393.7 393.5,394.9 394.0,396.1 394.5,397.2 395.0,398.4 395.5,399.6 396.0,400.8 396.5,402.0 397.0,403.2 397.5,404.4 398.0,405.6 398.5,406.9 399.0,408.1 399.5,409.3 400.0,410.5 400.5,411.8 401.0,413.0 401.5,414.2 402.0,415.4 402.5,416.6 403.0,417.7 403.5,418.9 404.0,420.1 404.5,421.2 405.0,422.4 405.5,423.5 406.0,424.6 406.5,425.6 407.0,426.7 407.5,427.7 408.0,428.8 408.5,429.8 409.0,430.7 409.5,431.7 410.0,432.6 410.5,433.6 411.0,434.5 411.5,435.4 412.0,436.2 412.5,437.1 413.0,437.9 413.5,438.8 414.0,439.6 414.5,440.4 415.0,441.1 415.5,441.9 416.0,442.6 416.5,443.4 417.0,444.1 417.5,444.8 418.0,445.5 418.5,446.1 419.0,446.8 419.5,447.4 420.0,448.1 420.5,448.7 421.0,449.3 421.5,449.9 422.0,450.4 422.5,451.0 423.0,451.5 423.5,452.1 424.0,452.6 424.5,453.1 425.0,453.6 425.5,454.1 426.0,454.6 426.5,455.1 427.0,455.5 427.5,456.0 428.0,456.4 428.5,456.8 429.0,457.2 429.5,457.6 430.0,458.0 430.5,458.4 431.0,458.8 431.5,459.2 432.0,459.5 432.5,459.9 433.0,460.2 433.5,460.6 434.0,460.9 434.5,461.2 435.0,461.5 435.5,461.8 436.0,462.1 436.5,462.4 437.0,462.7 437.5,463.0 438.0,463.3 438.5,463.6 439.0,463.8 439.5,464.1 440.0,464.3 440.5,464.6 441.0,464.8 441.5,465.1 442.0,465.3 442.5,465.5 443.0,465.8 443.5,466.0 444.0,466.2 444.5,466.4 445.0,466.6 445.5,466.8 446.0,467.0 446.5,467.2 447.0,467.4 447.5,467.6 448.0,467.8 448.5,468.0 449.0,468.2 449.5,468.4 450.0,468.6 450.5,468.7 451.0,468.9 451.5,469.1 452.0,469.2 452.5,469.4 453.0,469.5 453.5,469.7 454.0,469.8 454.5,469.9 455.0,470.1 455.5,470.2 456.0,470.3 456.5,470.4 457.0,470.5 457.5,470.6 458.0,470.7 458.5,470.7 459.0,470.8 459.5,470.9 460.0,471.0 460.5,471.1 461.0,471.1 461.5,471.2 462.0,471.3 462.5,471.4 463.0,471.4 463.5,471.5 464.0,471.6 464.5,471.6 465.0,471.7 465.5,471.7 466.0,471.8 466.5,471.8 467.0,471.9 467.5,471.9 468.0,472.0 468.5,472.0 469.0,472.1 469.5,472.1 470.0,472.2 470.5,472.2 471.0,472.3 471.5,472.3 472.0,472.3 472.5,472.4 473.0,472.4 473.5,472.5 474.0,472.5 474.5,472.5 475.0,472.6 475.5,472.6 476.0,472.6 476.5,472.7 477.0,472.7 477.5,472.7 478.0,472.8 478.5,472.8 479.0,472.8 479.5,472.9 480.0,472.9 480.5,472.9 481.0,472.9 481.5,472.9 482.0,473.0 482.5,473.0 483.0,473.0" fill="none" stroke="#72a4d8" stroke-width="1"/>
<polyline points="311.0,413.2 311.5,413.2 312.0,413.2 312.5,413.3 313.0,413.3 313.5,413.3 314.0,413.3 314.5,413.4 315.0,413.4 315.5,413.4 316.0,413.5 316.5,413.5 317.0,413.5 317.5,413.6 318.0,413.6 318.5,413.6 319.0,413.7 319.5,413.7 320.0,413.7 320.5,413.8 321.0,413.8 321.5,413.9 322.0,413.9 322.5,413.9 323.0,414.0 323.5,414.0 324.0,414.1 324.5,414.1 325.0,414.1 325.5,414.2 326.0,414.2 326.5,414.3 327.0,414.3 327.5,414.4 328.0,414.4 328.5,414.5 329.0,414.5 329.5,414.6 330.0,414.6 330.5,414.6 331.0,414.7 331.5,414.7 332.0,414.8 332.5,414.9 333.0,414.9 333.5,415.0 334.0,415.0 334.5,415.1 335.0,415.1 335.5,415.2 336.0,415.3 336.5,415.3 337.0,415.4 337.5,415.4 338.0,415.5 338.5,415.6 339.0,415.6 339.5,415.7 340.0,415.8 340.5,415.8 341.0,415.9 341.5,416.0 342.0,416.0 342.5,416.1 343.0,416.2 343.5,416.3 344.0,416.3 344.5,416.4 345.0,416.5 345.5,416.5 346.0,416.6 346.5,416.7 347.0,416.8 347.5,416.8 348.0,416.9 348.5,417.0 349.0,417.1 349.5,417.1 350.0,417.2 350.5,417.3 351.0,417.4 351.5,417.4 352.0,417.5 352.5,417.6 353.0,417.6 353.5,417.7 354.0,417.8 354.5,417.8 355.0,417.9 355.5,418.0 356.0,418.1 356.5,418.1 357.0,418.2 357.5,418.3 358.0,418.3 358.5,418.4 359.0,418.5 359.5,418.6 360.0,418.6 360.5,418.7 361.0,418.7 361.5,418.8 362.0,418.8 362.5,418.9 363.0,418.9 363.5,418.9 364.0,419.0 364.5,419.0 365.0,419.0 365.5,419.0 366.0,419.0 366.5,419.0 367.0,419.0 367.5,419.0 368.0,419.0 368.5,419.0 369.0,419.0 369.5,418.9 370.0,418.9 370.5,418.9 371.0,418.8 371.5,418.7 372.0,418.7 372.5,418.6 373.0,418.5 373.5,418.4 374.0,418.4 374.5,418.3 375.0,418.2 375.5,418.1 376.0,418.0 376.5,417.9 377.0,417.7 377.5,417.6 378.0,417.4 378.5,417.2 379.0,417.0 379.5,416.8 380.0,416.6 380.5,416.3 381.0,416.0 381.5,415.7 382.0,415.4 382.5,415.0 383.0,414.6 383.5,414.2 384.0,413.7 384.5,413.3 385.0,412.8 385.5,412.2 386.0,411.7 386.5,411.1 387.0,410.5 387.5,409.9 388.0,409.3 388.5,408.6 389.0,408.0 389.5,407.3 390.0,406.5 390.5,405.8 391.0,405.0 391.5,404.3 392.0,403.5 392.5,402.7 393.0,401.8 393.5,401.0 394.0,400.1 394.5,399.3 395.0,398.4 395.5,397.5 396.0,396.6 396.5,395.8 397.0,394.9 397.5,394.0 398.0,393.2 398.5,392.4 399.0,391.6 399.5,390.8 400.0,390.1 400.5,389.3 401.0,388.7 401.5,388.0 402.0,387.4 402.5,386.8 403.0,386.3 403.5,385.9 404.0,385.4 404.5,385.1 405.0,384.8 405.5,384.5 406.0,384.3 406.5,384.2 407.0,384.1 407.5,384.1 408.0,384.1 408.5,384.2 409.0,384.4 409.5,384.7 410.0,385.0 410.5,385.4 411.0,385.8 411.5,386.3 412.0,386.9 412.5,387.4 413.0,388.1 413.5,388.8 414.0,389.5 414.5,390.3 415.0,391.1 415.5,392.0 416.0,393.0 416.5,393.9 417.0,394.9 417.5,396.0 418.0,397.1 418.5,398.2 419.0,399.3 419.5,400.5 420.0,401.7 420.5,403.0 421.0,404.2 421.5,405.5 422.0,406.8 422.5,408.1 423.0,409.4 423.5,410.8 424.0,412.1 424.5,413.5 425.0,414.8 425.5,416.2 426.0,417.6 426.5,418.9 427.0,420.3 427.5,421.7 428.0,423.0 428.5,424.4 429.0,425.7 429.5,427.0 430.0,428.3 430.5,429.6 431.0,430.9 431.5,432.1 432.0,433.4 432.5,434.6 433.0,435.8 433.5,437.0 434.0,438.1 434.5,439.3 435.0,440.4 435.5,441.5 436.0,442.6 436.5,443.6 437.0,444.7 437.5,445.7 438.0,446.7 438.5,447.6 439.0,448.5 439.5,449.4 440.0,450.3 440.5,451.2 441.0,452.0 441.5,452.8 442.0,453.6 442.5,454.4 443.0,455.1 443.5,455.8 444.0,456.5 444.5,457.2 445.0,457.9 445.5,458.5 446.0,459.1 446.5,459.7 447.0,460.3 447.5,460.9 448.0,461.4 448.5,461.9 449.0,462.5 449.5,462.9 450.0,463.4 450.5,463.9 451.0,464.3 451.5,464.7 452.0,465.1 452.5,465.5 453.0,465.9 453.5,466.2 454.0,466.6 454.5,466.9 455.0,467.2 455.5,467.5 456.0,467.7 456.5,468.0 457.0,468.2 457.5,468.5 458.0,468.7 458.5,468.9 459.0,469.1 459.5,469.3 460.0,469.5 460.5,469.7 461.0,469.8 461.5,470.0 462.0,470.1 462.5,470.3 463.0,470.4 463.5,470.6 464.0,470.7 464.5,470.8 465.0,470.9 465.5,471.0 466.0,471.1 466.5,471.2 467.0,471.3 467.5,471.4 468.0,471.5 468.5,471.6 469.0,471.7 469.5,471.7 470.0,471.8 470.5,471.9 471.0,471.9 471.5,472.0 472.0,472.1 472.5,472.1 473.0,472.2 473.5,472.2 474.0,472.3 474.5,472.4 475.0,472.4 475.5,472.5 476.0,472.5 476.5,472.5 477.0,472.6 477.5,472.6 478.0,472.7 478.5,472.7 479.0,472.7 479.5,472.8 480.0,472.8 480.5,472.8 481.0,472.9 481.5,472.9 482.0,472.9 482.5,472.9 483.0,473.0" fill="none" stroke="#abc982" stroke-width="1"/>
<polyline points="311.0,413.2 311.5,413.2 312.0,413.2 312.5,413.3 313.0,413.3 313.5,413.3 314.0,413.3 314.5,413.4 315.0,413.4 315.5,413.4 316.0,413.5 316.5,413.5 317.0,413.5 317.5,413.6 318.0,413.6 318.5,413.6 319.0,413.7 319.5,413.7 320.0,413.7 320.5,413.8 321.0,413.8 321.5,413.9 322.0,413.9 322.5,413.9 323.0,414.0 323.5,414.0 324.0,414.1 324.5,414.1 325.0,414.1 325.5,414.2 326.0,414.2 326.5,414.3 327.0,414.3 327.5,414.4 328.0,414.4 328.5,414.5 329.0,414.5 329.5,414.6 330.0,414.6 330.5,414.6 331.0,414.7 331.5,414.7 332.0,414.8 332.5,414.9 333.0,414.9 333.5,415.0 334.0,415.0 334.5,415.1 335.0,415.1 335.5,415.2 336.0,415.3 336.5,415.3 337.0,415.4 337.5,415.4 338.0,415.5 338.5,415.6 339.0,415.6 339.5,415.7 340.0,415.8 340.5,415.8 341.0,415.9 341.5,416.0 342.0,416.1 342.5,416.1 343.0,416.2 343.5,416.3 344.0,416.4 344.5,416.4 345.0,416.5 345.5,416.6 346.0,416.7 346.5,416.7 347.0,416.8 347.5,416.9 348.0,417.0 348.5,417.1 349.0,417.1 349.5,417.2 350.0,417.3 350.5,417.4 351.0,417.5 351.5,417.5 352.0,417.6 352.5,417.7 353.0,417.8 353.5,417.9 354.0,418.0 354.5,418.1 355.0,418.2 355.5,418.3 356.0,418.4 356.5,418.5 357.0,418.6 357.5,418.7 358.0,418.8 358.5,418.9 359.0,419.0 359.5,419.1 360.0,419.2 360.5,419.3 361.0,419.4 361.5,419.5 362.0,419.6 362.5,419.8 363.0,419.9 363.5,420.0 364.0,420.1 364.5,420.2 365.0,420.3 365.5,420.5 366.0,420.6 366.5,420.7 367.0,420.8 367.5,421.0 368.0,421.1 368.5,421.3 369.0,421.4 369.5,421.6 370.0,421.7 370.5,421.9 371.0,422.0 371.5,422.2 372.0,422.4 372.5,422.6 373.0,422.8 373.5,423.0 374.0,423.3 374.5,423.5 375.0,423.8 375.5,424.0 376.0,424.3 376.5,424.6 377.0,424.9 377.5,425.2 378.0,425.5 378.5,425.8 379.0,426.2 379.5,426.5 380.0,426.8 380.5,427.2 381.0,427.5 381.5,427.9 382.0,428.2 382.5,428.6 383.0,428.9 383.5,429.3 384.0,429.6 384.5,429.9 385.0,430.3 385.5,430.7 386.0,431.0 386.5,431.4 387.0,431.8 387.5,432.2 388.0,432.6 388.5,433.0 389.0,433.4 389.5,433.8 390.0,434.2 390.5,434.6 391.0,435.1 391.5,435.5 392.0,435.9 392.5,436.3 393.0,436.7 393.5,437.2 394.0,437.6 394.5,438.0 395.0,438.4 395.5,438.8 396.0,439.2 396.5,439.6 397.0,440.0 397.5,440.4 398.0,440.8 398.5,441.2 399.0,441.7 399.5,442.1 400.0,442.5 400.5,442.9 401.0,443.3 401.5,443.8 402.0,444.2 402.5,444.6 403.0,445.0 403.5,445.4 404.0,445.8 404.5,446.2 405.0,446.6 405.5,447.0 406.0,447.3 406.5,447.7 407.0,448.1 407.5,448.4 408.0,448.8 408.5,449.1 409.0,449.4 409.5,449.8 410.0,450.1 410.5,450.4 411.0,450.7 411.5,451.0 412.0,451.3 412.5,451.6 413.0,451.9 413.5,452.2 414.0,452.5 414.5,452.7 415.0,453.0 415.5,453.3 416.0,453.5 416.5,453.8 417.0,454.0 417.5,454.3 418.0,454.5 418.5,454.7 419.0,455.0 419.5,455.2 420.0,455.4 420.5,455.6 421.0,455.8 421.5,455.9 422.0,456.1 422.5,456.3 423.0,456.4 423.5,456.5 424.0,456.7 424.5,456.8 425.0,456.8 425.5,456.9 426.0,457.0 426.5,457.0 427.0,457.0 427.5,457.0 428.0,456.9 428.5,456.9 429.0,456.8 429.5,456.7 430.0,456.6 430.5,456.4 431.0,456.2 431.5,456.0 432.0,455.8 432.5,455.5 433.0,455.2 433.5,454.8 434.0,454.5 434.5,454.1 435.0,453.7 435.5,453.2 436.0,452.7 436.5,452.2 437.0,451.7 437.5,451.1 438.0,450.6 438.5,450.0 439.0,449.3 439.5,448.7 440.0,448.1 440.5,447.4 441.0,446.8 441.5,446.1 442.0,445.5 442.5,444.8 443.0,444.2 443.5,443.6 444.0,443.0 444.5,442.4 445.0,441.9 445.5,441.4 446.0,441.0 446.5,440.6 447.0,440.3 447.5,440.0 448.0,439.8 448.5,439.6 449.0,439.5 449.5,439.5 450.0,439.5 450.5,439.6 451.0,439.8 451.5,440.0 452.0,440.3 452.5,440.6 453.0,440.9 453.5,441.3 454.0,441.8 454.5,442.2 455.0,442.7 455.5,443.3 456.0,443.8 456.5,444.4 457.0,445.0 457.5,445.7 458.0,446.4 458.5,447.1 459.0,447.8 459.5,448.5 460.0,449.3 460.5,450.0 461.0,450.8 461.5,451.6 462.0,452.3 462.5,453.1 463.0,453.9 463.5,454.6 464.0,455.4 464.5,456.1 465.0,456.9 465.5,457.6 466.0,458.3 466.5,459.0 467.0,459.7 467.5,460.3 468.0,461.0 468.5,461.6 469.0,462.2 469.5,462.8 470.0,463.4 470.5,463.9 471.0,464.4 471.5,465.0 472.0,465.4 472.5,465.9 473.0,466.4 473.5,466.8 474.0,467.2 474.5,467.6 475.0,467.9 475.5,468.3 476.0,468.6 476.5,468.9 477.0,469.2 477.5,469.5 478.0,469.8 478.5,470.0 479.0,470.3 479.5,470.5 480.0,470.7 480.5,470.9 481.0,471.1 481.5,471.2 482.0,471.4 482.5,471.5 483.0,471.7" fill="none" stroke="#e98585" stroke-width="1"/>
<polyline points="311.0,413.2 311.5,413.2 312.0,413.2 312.5,413.3 313.0,413.3 313.5,413.3 314.0,413.3 314.5,413.4 315.0,413.4 315.5,413.4 316.0,413.5 316.5,413.5 317.0,413.5 317.5,413.6 318.0,413.6 318.5,413.6 319.0,413.7 319.5,413.7 320.0,413.7 320.5,413.8 321.0,413.8 321.5,413.9 322.0,413.9 322.5,413.9 323.0,414.0 323.5,414.0 324.0,414.1 324.5,414.1 325.0,414.1 325.5,414.2 326.0,414.2 326.5,414.3 327.0,414.3 327.5,414.4 328.0,414.4 328.5,414.5 329.0,414.5 329.5,414.6 330.0,414.6 330.5,414.6 331.0,414.7 331.5,414.7 332.0,414.8 332.5,414.9 333.0,414.9 333.5,415.0 334.0,415.0 334.5,415.1 335.0,415.1 335.5,415.2 336.0,415.3 336.5,415.3 337.0,415.4 337.5,415.4 338.0,415.5 338.5,415.6 339.0,415.6 339.5,415.7 340.0,415.8 340.5,415.8 341.0,415.9 341.5,416.0 342.0,416.1 342.5,416.1 343.0,416.2 343.5,416.3 344.0,416.4 344.5,416.4 345.0,416.5 345.5,416.6 346.0,416.7 346.5,416.7 347.0,416.8 347.5,416.9 348.0,417.0 348.5,417.1 349.0,417.1 349.5,417.2 350.0,417.3 350.5,417.4 351.0,417.5 351.5,417.5 352.0,417.6 352.5,417.7 353.0,417.8 353.5,417.9 354.0,418.0 354.5,418.1 355.0,418.2 355.5,418.3 356.0,418.4 356.5,418.5 357.0,418.6 357.5,418.7 358.0,418.8 358.5,418.9 359.0,419.0 359.5,419.1 360.0,419.2 360.5,419.3 361.0,419.4 361.5,419.5 362.0,419.6 362.5,419.8 363.0,419.9 363.5,420.0 364.0,420.1 364.5,420.2 365.0,420.3 365.5,420.5 366.0,420.6 366.5,420.7 367.0,420.8 367.5,421.0 368.0,421.1 368.5,421.3 369.0,421.4 369.5,421.6 370.0,421.7 370.5,421.9 371.0,422.0 371.5,422.2 372.0,422.4 372.5,422.6 373.0,422.8 373.5,423.0 374.0,423.3 374.5,423.5 375.0,423.8 375.5,424.0 376.0,424.3 376.5,424.6 377.0,424.9 377.5,425.2 378.0,425.5 378.5,425.8 379.0,426.2 379.5,426.5 380.0,426.8 380.5,427.2 381.0,427.5 381.5,427.9 382.0,428.2 382.5,428.6 383.0,428.9 383.5,429.3 384.0,429.6 384.5,429.9 385.0,430.3 385.5,430.7 386.0,431.0 386.5,431.4 387.0,431.8 387.5,432.2 388.0,432.6 388.5,433.0 389.0,433.4 389.5,433.8 390.0,434.2 390.5,434.6 391.0,435.1 391.5,435.5 392.0,435.9 392.5,436.3 393.0,436.7 393.5,437.2 394.0,437.6 394.5,438.0 395.0,438.4 395.5,438.8 396.0,439.2 396.5,439.6 397.0,440.0 397.5,440.4 398.0,440.8 398.5,441.2 399.0,441.7 399.5,442.1 400.0,442.5 400.5,442.9 401.0,443.3 401.5,443.8 402.0,444.2 402.5,444.6 403.0,445.0 403.5,445.4 404.0,445.8 404.5,446.2 405.0,446.6 405.5,447.0 406.0,447.4 406.5,447.7 407.0,448.1 407.5,448.5 408.0,448.8 408.5,449.1 409.0,449.5 409.5,449.8 410.0,450.1 410.5,450.5 411.0,450.8 411.5,451.1 412.0,451.4 412.5,451.7 413.0,452.0 413.5,452.3 414.0,452.6 414.5,452.9 415.0,453.2 415.5,453.5 416.0,453.8 416.5,454.1 417.0,454.3 417.5,454.6 418.0,454.9 418.5,455.2 419.0,455.5 419.5,455.7 420.0,456.0 420.5,456.3 421.0,456.5 421.5,456.8 422.0,457.1 422.5,457.3 423.0,457.6 423.5,457.9 424.0,458.1 424.5,458.4 425.0,458.6 425.5,458.9 426.0,459.2 426.5,459.4 427.0,459.6 427.5,459.9 428.0,460.1 428.5,460.4 429.0,460.6 429.5,460.9 430.0,461.1 430.5,461.3 431.0,461.6 431.5,461.8 432.0,462.0 432.5,462.2 433.0,462.4 433.5,462.7 434.0,462.9 434.5,463.1 435.0,463.3 435.5,463.5 436.0,463.7 436.5,463.9 437.0,464.1 437.5,464.3 438.0,464.6 438.5,464.8 439.0,465.0 439.5,465.1 440.0,465.3 440.5,465.5 441.0,465.7 441.5,465.9 442.0,466.1 442.5,466.3 443.0,466.5 443.5,466.6 444.0,466.8 444.5,467.0 445.0,467.1 445.5,467.3 446.0,467.5 446.5,467.7 447.0,467.8 447.5,468.0 448.0,468.2 448.5,468.3 449.0,468.5 449.5,468.7 450.0,468.8 450.5,469.0 451.0,469.1 451.5,469.3 452.0,469.4 452.5,469.6 453.0,469.7 453.5,469.8 454.0,470.0 454.5,470.1 455.0,470.2 455.5,470.3 456.0,470.4 456.5,470.5 457.0,470.6 457.5,470.7 458.0,470.7 458.5,470.8 459.0,470.9 459.5,471.0 460.0,471.1 460.5,471.1 461.0,471.2 461.5,471.3 462.0,471.3 462.5,471.4 463.0,471.5 463.5,471.5 464.0,471.6 464.5,471.6 465.0,471.7 465.5,471.8 466.0,471.8 466.5,471.9 467.0,471.9 467.5,472.0 468.0,472.0 468.5,472.0 469.0,472.1 469.5,472.1 470.0,472.2 470.5,472.2 471.0,472.3 471.5,472.3 472.0,472.3 472.5,472.4 473.0,472.4 473.5,472.5 474.0,472.5 474.5,472.5 475.0,472.6 475.5,472.6 476.0,472.6 476.5,472.7 477.0,472.7 477.5,472.7 478.0,472.8 478.5,472.8 479.0,472.8 479.5,472.9 480.0,472.9 480.5,472.9 481.0,472.9 481.5,472.9 482.0,473.0 482.5,473.0 483.0,473.0" fill="none" stroke="#c99a74" stroke-width="1.15"/>
<polyline points="311.0,411.3 311.5,411.2 312.0,411.1 312.5,411.0 313.0,410.9 313.5,410.7 314.0,410.6 314.5,410.5 315.0,410.4 315.5,410.3 316.0,410.2 316.5,410.1 317.0,410.1 317.5,410.0 318.0,409.9 318.5,409.8 319.0,409.7 319.5,409.7 320.0,409.6 320.5,409.6 321.0,409.5 321.5,409.4 322.0,409.3 322.5,409.3 323.0,409.2 323.5,409.0 324.0,408.9 324.5,408.7 325.0,408.4 325.5,408.1 326.0,407.7 326.5,407.4 327.0,406.9 327.5,406.5 328.0,406.1 328.5,405.7 329.0,405.3 329.5,404.9 330.0,404.6 330.5,404.3 331.0,404.1 331.5,403.8 332.0,403.6 332.5,403.3 333.0,403.1 333.5,402.8 334.0,402.6 334.5,402.4 335.0,402.2 335.5,402.0 336.0,401.8 336.5,401.7 337.0,401.5 337.5,401.4 338.0,401.2 338.5,401.1 339.0,401.0 339.5,400.9 340.0,400.8 340.5,400.7 341.0,400.6 341.5,400.4 342.0,400.3 342.5,400.2 343.0,400.0 343.5,399.9 344.0,399.7 344.5,399.5 345.0,399.3 345.5,399.1 346.0,398.9 346.5,398.7 347.0,398.4 347.5,398.2 348.0,397.9 348.5,397.7 349.0,397.4 349.5,397.2 350.0,396.9 350.5,396.6 351.0,396.3 351.5,396.0 352.0,395.7 352.5,395.4 353.0,395.1 353.5,394.7 354.0,394.4 354.5,394.0 355.0,393.5 355.5,393.1 356.0,392.6 356.5,392.0 357.0,391.5 357.5,390.9 358.0,390.3 358.5,389.6 359.0,388.9 359.5,388.3 360.0,387.6 360.5,386.9 361.0,386.2 361.5,385.5 362.0,384.7 362.5,384.0 363.0,383.3 363.5,382.6 364.0,381.9 364.5,381.1 365.0,380.4 365.5,379.6 366.0,378.8 366.5,378.0 367.0,377.1 367.5,376.3 368.0,375.5 368.5,374.7 369.0,373.9 369.5,373.2 370.0,372.4 370.5,371.7 371.0,371.0 371.5,370.4 372.0,369.7 372.5,369.1 373.0,368.5 373.5,367.9 374.0,367.3 374.5,366.7 375.0,366.1 375.5,365.6 376.0,365.0 376.5,364.5 377.0,364.0 377.5,363.5 378.0,363.0 378.5,362.6 379.0,362.1 379.5,361.7 380.0,361.4 380.5,361.0 381.0,360.7 381.5,360.3 382.0,359.9 382.5,359.6 383.0,359.3 383.5,358.9 384.0,358.6 384.5,358.4 385.0,358.1 385.5,357.9 386.0,357.6 386.5,357.5 387.0,357.3 387.5,357.2 388.0,357.1 388.5,357.0 389.0,356.9 389.5,356.9 390.0,356.8 390.5,356.7 391.0,356.7 391.5,356.6 392.0,356.6 392.5,356.6 393.0,356.5 393.5,356.5 394.0,356.5 394.5,356.5 395.0,356.5 395.5,356.6 396.0,356.6 396.5,356.7 397.0,356.8 397.5,356.9 398.0,357.0 398.5,357.1 399.0,357.3 399.5,357.4 400.0,357.6 400.5,357.7 401.0,357.9 401.5,358.1 402.0,358.3 402.5,358.5 403.0,358.8 403.5,359.1 404.0,359.5 404.5,359.8 405.0,360.2 405.5,360.6 406.0,361.1 406.5,361.5 407.0,362.0 407.5,362.5 408.0,363.1 408.5,363.8 409.0,364.6 409.5,365.4 410.0,366.3 410.5,367.2 411.0,368.2 411.5,369.1 412.0,370.0 412.5,370.9 413.0,371.8 413.5,372.8 414.0,373.7 414.5,374.7 415.0,375.7 415.5,376.8 416.0,377.8 416.5,379.0 417.0,380.2 417.5,381.4 418.0,382.7 418.5,384.1 419.0,385.4 419.5,386.7 420.0,388.0 420.5,389.2 421.0,390.4 421.5,391.6 422.0,392.7 422.5,393.9 423.0,395.1 423.5,396.3 424.0,397.6 424.5,399.0 425.0,400.5 425.5,402.3 426.0,404.1 426.5,406.0 427.0,407.8 427.5,409.5 428.0,411.0 428.5,412.4 429.0,413.7 429.5,414.9 430.0,416.1 430.5,417.3 431.0,418.4 431.5,419.5 432.0,420.5 432.5,421.5 433.0,422.6 433.5,423.6 434.0,424.6 434.5,425.5 435.0,426.4 435.5,427.2 436.0,428.0 436.5,428.6 437.0,429.2 437.5,429.8 438.0,430.3 438.5,430.8 439.0,431.2 439.5,431.7 440.0,432.1 440.5,432.5 441.0,432.9 441.5,433.2 442.0,433.6 442.5,434.0 443.0,434.3 443.5,434.6 444.0,434.9 444.5,435.2 445.0,435.5 445.5,435.8 446.0,436.0 446.5,436.3 447.0,436.6 447.5,436.8 448.0,437.1 448.5,437.4 449.0,437.7 449.5,438.1 450.0,438.4 450.5,438.7 451.0,439.0 451.5,439.4 452.0,439.7 452.5,440.1 453.0,440.5 453.5,440.8 454.0,441.2 454.5,441.7 455.0,442.1 455.5,442.6 456.0,443.1 456.5,443.7 457.0,444.4 457.5,445.1 458.0,445.8 458.5,446.6 459.0,447.4 459.5,448.2 460.0,449.0 460.5,449.7 461.0,450.4 461.5,451.1 462.0,451.7 462.5,452.3 463.0,452.9 463.5,453.5 464.0,454.0 464.5,454.6 465.0,455.1 465.5,455.6 466.0,456.2 466.5,456.7 467.0,457.2 467.5,457.7 468.0,458.3 468.5,458.8 469.0,459.4 469.5,460.0 470.0,460.5 470.5,461.1 471.0,461.7 471.5,462.3 472.0,462.9 472.5,463.4 473.0,463.9 473.5,464.5 474.0,465.0 474.5,465.4 475.0,465.8 475.5,466.3 476.0,466.7 476.5,467.1 477.0,467.5 477.5,467.9 478.0,468.3 478.5,468.7 479.0,469.0 479.5,469.4 480.0,469.7 480.5,470.1 481.0,470.4 481.5,470.7 482.0,471.0 482.5,471.2 483.0,471.5" fill="none" stroke="#cc9060" stroke-width="1.0"/>
<polyline points="30.5,419.7 31.1,410.8 31.8,421.2 32.4,417.2 33.0,419.4 33.6,414.2 34.3,417.6 34.9,421.1 35.5,421.5 36.2,416.6 36.8,418.4 37.4,417.8 38.1,422.5 38.7,421.1 39.3,415.9 39.9,424.9 40.6,418.6 41.2,423.7 41.8,417.6 42.5,423.3 43.1,421.4 43.7,422.2 44.4,424.4 45.0,424.1 45.6,422.8 46.2,422.9 46.9,416.1 47.5,421.8 48.1,411.8 48.8,411.6 49.4,420.8 50.0,421.3 50.7,429.4 51.3,425.6 51.9,427.7 52.5,421.0 53.2,424.6 53.8,428.1 54.4,425.1 55.1,424.3 55.7,423.1 56.3,418.3 57.0,418.5 57.6,416.0 58.2,424.7 58.8,421.5 59.5,419.7 60.1,424.6 60.7,420.2 61.4,427.9 62.0,432.0 62.6,425.1 63.3,417.0 63.9,416.0 64.5,432.6 65.1,425.2 65.8,417.5 66.4,428.2 67.0,415.2 67.7,421.0 68.3,421.9 68.9,421.3 69.6,417.6 70.2,434.3 70.8,421.0 71.4,424.6 72.1,422.9 72.7,415.1 73.3,420.0 74.0,423.5 74.6,426.8 75.2,420.7 75.9,424.0 76.5,420.5 77.1,424.8 77.7,410.2 78.4,424.7 79.0,418.8 79.6,419.0 80.3,408.1 80.9,416.5 81.5,424.4 82.2,432.5 82.8,418.0 83.4,418.2 84.0,423.6 84.7,422.5 85.3,418.3 85.9,420.2 86.6,419.1 87.2,423.8 87.8,424.6 88.5,429.1 89.1,425.0 89.7,423.8 90.3,421.8 91.0,424.9 91.6,415.6 92.2,430.5 92.9,421.5 93.5,426.8 94.1,416.1 94.8,424.7 95.4,421.5 96.0,418.6 96.6,416.1 97.3,415.0 97.9,427.6 98.5,429.3 99.2,419.2 99.8,419.4 100.4,414.9 101.1,402.4 101.7,409.4 102.3,414.9 102.9,416.9 103.6,411.9 104.2,421.2 104.8,419.7 105.5,417.9 106.1,408.6 106.7,415.9 107.4,416.7 108.0,410.8 108.6,406.3 109.2,425.8 109.9,419.6 110.5,414.7 111.1,424.2 111.8,421.8 112.4,418.6 113.0,417.5 113.7,420.1 114.3,423.4 114.9,416.6 115.5,415.2 116.2,419.0 116.8,402.7 117.4,416.6 118.1,414.2 118.7,416.0 119.3,415.2 120.0,417.7 120.6,416.5 121.2,416.3 121.8,415.3 122.5,418.1 123.1,413.4 123.7,420.5 124.4,407.7 125.0,416.7 125.6,417.8 126.3,409.5 126.9,413.5 127.5,421.9 128.1,414.9 128.8,411.2 129.4,401.1 130.0,417.0 130.7,415.9 131.3,418.3 131.9,425.2 132.6,415.3 133.2,415.9 133.8,412.0 134.4,415.0 135.1,415.2 135.7,418.9 136.3,418.0 137.0,411.6 137.6,413.0 138.2,421.9 138.9,410.7 139.5,418.9 140.1,423.1 140.7,418.4 141.4,416.5 142.0,421.9 142.6,417.0 143.3,415.2 143.9,414.3 144.5,420.8 145.2,418.6 145.8,422.7 146.4,413.7 147.0,413.8 147.7,413.2 148.3,416.6 148.9,412.0 149.6,419.8 150.2,416.9 150.8,410.6 151.5,401.1 152.1,406.6 152.7,422.2 153.3,415.1 154.0,416.1 154.6,413.3 155.2,417.3 155.9,406.2 156.5,405.8 157.1,407.5 157.8,415.7 158.4,418.8 159.0,417.7 159.6,414.8 160.3,409.2 160.9,419.2 161.5,414.0 162.2,415.2 162.8,414.9 163.4,411.1 164.1,411.7 164.7,412.2 165.3,408.8 165.9,416.1 166.6,414.0 167.2,419.6 167.8,405.9 168.5,424.6 169.1,414.1 169.7,413.5 170.4,410.4 171.0,410.2 171.6,406.9 172.2,418.3 172.9,412.9 173.5,417.3 174.1,417.7 174.8,411.3 175.4,412.5 176.0,411.9 176.7,418.4 177.3,414.1 177.9,414.2 178.5,416.8 179.2,412.9 179.8,430.8 180.4,408.6 181.1,419.1 181.7,419.7 182.3,407.4 183.0,416.9 183.6,414.1 184.2,416.8 184.8,406.8 185.5,414.6 186.1,407.6 186.7,410.6 187.4,418.9 188.0,411.3 188.6,392.4 189.3,404.9 189.9,406.0 190.5,416.2 191.1,407.8 191.8,403.5 192.4,416.1 193.0,411.8 193.7,412.0 194.3,406.3 194.9,416.8 195.6,409.2 196.2,400.1 196.8,403.9 197.4,405.1 198.1,408.1 198.7,412.4 199.3,405.0 200.0,405.4 200.6,418.6 201.2,408.2 201.9,405.0 202.5,407.5 203.1,401.0 203.7,409.4 204.4,411.2 205.0,401.2 205.6,410.8 206.3,404.4 206.9,406.9 207.5,401.7 208.2,401.1 208.8,397.5 209.4,405.5 210.0,402.9 210.7,402.8 211.3,398.3 211.9,397.9 212.6,400.3 213.2,405.3 213.8,404.3 214.5,399.4 215.1,403.9 215.7,410.7 216.3,402.6 217.0,411.6 217.6,403.7 218.2,407.7 218.9,398.5 219.5,406.3 220.1,390.1 220.8,401.1 221.4,397.9 222.0,389.5 222.6,392.1 223.3,403.7 223.9,400.2 224.5,408.6 225.2,398.0 225.8,382.7 226.4,397.4 227.1,393.0 227.7,392.9 228.3,392.8 228.9,390.9 229.6,389.6 230.2,399.8 230.8,395.7 231.5,390.3 232.1,391.2 232.7,397.7 233.4,394.7 234.0,393.7 234.6,386.7 235.2,390.4 235.9,386.9 236.5,383.1 237.1,396.5 237.8,390.6 238.4,390.2 239.0,387.7 239.7,396.2 240.3,403.0 240.9,396.1 241.5,398.2 242.2,383.4 242.8,395.4 243.4,396.0 244.1,402.5 244.7,395.6 245.3,391.3 246.0,395.8 246.6,394.2 247.2,403.5 247.8,399.9 248.5,398.6 249.1,398.1 249.7,401.5 250.4,395.4 251.0,393.6 251.6,389.4 252.3,404.5 252.9,401.7 253.5,402.8 254.1,400.4 254.8,408.7 255.4,396.5 256.0,407.4 256.7,398.0 257.3,400.3 257.9,397.0 258.6,403.6 259.2,402.1 259.8,407.5 260.4,401.4 261.1,397.9 261.7,407.6 262.3,411.3 263.0,408.9 263.6,405.3 264.2,407.7 264.9,397.8 265.5,404.4 266.1,411.7 266.7,408.5 267.4,402.3 268.0,410.6 268.6,406.0 269.3,410.2 269.9,400.1 270.5,404.4 271.2,409.8 271.8,408.6 272.4,410.0 273.0,407.4 273.7,406.6 274.3,409.9 274.9,411.9 275.6,400.6 276.2,406.3 276.8,406.9 277.5,408.6 278.1,412.7 278.7,401.4 279.3,410.3 280.0,399.3 280.6,403.9 281.2,405.0 281.9,406.1 282.5,404.3 283.1,404.7 283.8,405.5 284.4,405.7 285.0,398.0 285.6,400.0 286.3,402.7 286.9,408.9 287.5,411.0 288.2,419.7 288.8,406.4 289.4,402.0 290.1,406.5 290.7,408.9 291.3,406.3 291.9,400.5 292.6,405.1 293.2,405.5 293.8,399.0 294.5,400.0 295.1,411.6 295.7,395.3 296.4,406.8 297.0,404.9 297.6,412.9 298.2,409.3 298.9,402.5 299.5,413.1 300.1,404.8 300.8,417.5 301.4,416.5 302.0,408.7 302.7,413.3 303.3,410.8 303.9,406.0 304.5,415.5 305.2,412.6 305.8,414.8 306.4,415.9 307.1,417.7 307.7,415.9 308.3,410.7 309.0,411.6 309.6,413.2 310.2,410.7 310.8,410.1 311.5,420.1 312.1,413.4 312.7,420.0 313.4,407.1 314.0,410.4 314.6,408.4 315.3,408.5 315.9,408.9 316.5,409.5 317.1,407.9 317.8,418.5 318.4,413.0 319.0,406.2 319.7,407.1 320.3,413.1 320.9,412.1 321.6,406.5 322.2,413.7 322.8,396.9 323.4,406.8 324.1,417.0 324.7,396.1 325.3,407.2 326.0,412.5 326.6,406.6 327.2,400.1 327.9,402.0 328.5,395.8 329.1,398.9 329.7,405.4 330.4,401.7 331.0,404.0 331.6,403.0 332.3,404.8 332.9,395.2 333.5,401.4 334.2,400.9 334.8,400.8 335.4,397.8 336.0,391.4 336.7,404.6 337.3,405.3 337.9,412.5 338.6,404.6 339.2,408.8 339.8,403.6 340.5,398.9 341.1,402.9 341.7,394.8 342.3,401.4 343.0,399.5 343.6,394.8 344.2,405.4 344.9,404.7 345.5,403.0 346.1,402.7 346.8,406.4 347.4,397.6 348.0,391.5 348.6,393.1 349.3,400.6 349.9,398.0 350.5,389.5 351.2,402.5 351.8,396.9 352.4,403.1 353.1,400.4 353.7,392.6 354.3,394.6 354.9,390.1 355.6,389.0 356.2,391.0 356.8,394.1 357.5,397.5 358.1,385.9 358.7,392.7 359.4,388.7 360.0,386.6 360.6,392.1 361.2,384.2 361.9,391.6 362.5,382.6 363.1,378.9 363.8,386.0 364.4,374.4 365.0,374.7 365.7,378.5 366.3,378.4 366.9,376.1 367.5,367.0 368.2,369.0 368.8,376.8 369.4,376.0 370.1,367.7 370.7,374.0 371.3,371.8 372.0,374.8 372.6,365.6 373.2,375.3 373.8,366.2 374.5,373.7 375.1,370.6 375.7,360.6 376.4,363.3 377.0,365.5 377.6,368.4 378.3,356.3 378.9,360.0 379.5,364.9 380.1,363.7 380.8,356.0 381.4,356.2 382.0,362.1 382.7,354.7 383.3,360.3 383.9,363.2 384.6,358.6 385.2,345.4 385.8,363.5 386.4,363.1 387.1,364.2 387.7,361.4 388.3,349.2 389.0,363.9 389.6,358.7 390.2,361.4 390.9,356.1 391.5,355.6 392.1,354.8 392.7,364.3 393.4,358.0 394.0,355.8 394.6,350.6 395.3,359.0 395.9,356.8 396.5,357.6 397.2,365.6 397.8,360.6 398.4,357.3 399.0,358.5 399.7,358.0 400.3,361.2 400.9,361.3 401.6,358.9 402.2,354.5 402.8,362.9 403.5,367.2 404.1,350.6 404.7,362.0 405.3,358.8 406.0,350.7 406.6,361.5 407.2,366.9 407.9,359.7 408.5,360.7 409.1,369.9 409.8,360.8 410.4,362.6 411.0,366.7 411.6,372.3 412.3,373.6 412.9,369.2 413.5,371.5 414.2,374.6 414.8,373.6 415.4,372.6 416.1,372.9 416.7,383.0 417.3,380.1 417.9,396.5 418.6,387.4 419.2,382.4 419.8,387.6 420.5,390.7 421.1,394.1 421.7,394.3 422.4,395.9 423.0,394.6 423.6,399.9 424.2,408.9 424.9,398.1 425.5,400.6 426.1,408.1 426.8,413.1 427.4,413.2 428.0,417.0 428.7,412.6 429.3,413.4 429.9,419.1 430.5,420.7 431.2,426.9 431.8,427.8 432.4,412.9 433.1,426.6 433.7,420.9 434.3,415.2 435.0,428.3 435.6,426.6 436.2,426.7 436.8,423.0 437.5,425.0 438.1,429.4 438.7,423.9 439.4,431.1 440.0,432.7 440.6,431.9 441.3,434.6 441.9,433.3 442.5,428.5 443.1,429.5 443.8,435.5 444.4,439.8 445.0,436.3 445.7,433.5 446.3,437.0 446.9,427.9 447.6,432.1 448.2,435.5 448.8,437.3 449.4,436.5 450.1,437.1 450.7,433.2 451.3,436.5 452.0,440.9 452.6,431.3 453.2,434.9 453.9,439.5 454.5,448.8 455.1,445.5 455.7,450.4 456.4,450.0 457.0,442.2 457.6,444.9 458.3,440.6 458.9,452.9 459.5,451.7 460.2,452.0 460.8,453.2 461.4,453.1 462.0,452.8 462.7,454.9 463.3,459.1 463.9,450.2 464.6,449.7 465.2,455.4 465.8,461.5 466.5,457.8 467.1,456.3 467.7,462.0 468.3,459.2 469.0,450.3 469.6,455.3 470.2,450.9 470.9,460.5 471.5,460.2 472.1,466.8 472.8,481.9 473.4,461.5 474.0,465.0 474.6,463.7 475.3,452.7 475.9,463.0 476.5,463.7 477.2,469.0 477.8,464.2 478.4,462.5 479.1,471.9 479.7,469.2 480.3,465.7 480.9,466.7 481.6,469.2 482.2,474.9 482.8,478.2 483.5,465.7 484.1,478.1 484.7,473.4 485.4,475.5 486.0,479.2 486.6,470.6 487.2,480.0 487.9,470.3 488.5,475.0 489.1,473.9 489.8,486.7 490.4,487.2 491.0,483.7 491.7,483.2 492.3,478.9 492.9,497.2 493.5,489.5 494.2,487.9 494.8,483.8 495.4,483.4 496.1,485.4 496.7,492.9 497.3,482.7 498.0,488.5 498.6,496.3 499.2,493.3 499.8,497.9 500.5,492.1 501.1,492.6 501.7,497.6 502.4,494.6 503.0,493.5 503.6,489.8 504.3,485.6 504.9,500.2 505.5,491.5 506.1,490.3 506.8,498.3 507.4,490.3 508.0,483.4 508.7,492.5 509.3,495.2 509.9,497.3 510.6,498.8 511.2,501.5 511.8,496.8 512.4,499.7 513.1,498.1 513.7,496.3 514.3,501.9 515.0,502.4 515.6,510.2 516.2,504.9 516.9,496.9 517.5,506.1 518.1,502.7 518.7,512.0 519.4,497.0 520.0,502.5 520.6,503.1 521.3,507.3 521.9,506.7 522.5,500.3 523.2,499.5 523.8,509.7 524.4,516.3 525.0,516.7 525.7,508.3 526.3,512.8 526.9,507.0 527.6,504.7 528.2,517.9 528.8,515.8 529.5,511.6 530.1,512.1 530.7,518.9 531.3,516.8 532.0,514.5 532.6,518.2 533.2,517.7 533.9,516.6" fill="none" stroke="#ff1414" stroke-width="0.9" stroke-linejoin="round"/>
<path d="M30,520.5 V7.6 H534.4 V520.5" fill="none" stroke="#737373" stroke-width="1.3"/>
<line x1="27" y1="520.5" x2="535" y2="520.5" stroke="#505050" stroke-width="1.2"/>
<line x1="35.50" y1="520.5" x2="35.50" y2="525.5" stroke="#505050" stroke-width="1"/>
<line x1="48.09" y1="520.5" x2="48.09" y2="522.7" stroke="#505050" stroke-width="1"/>
<line x1="60.69" y1="520.5" x2="60.69" y2="522.7" stroke="#505050" stroke-width="1"/>
<line x1="73.28" y1="520.5" x2="73.28" y2="522.7" stroke="#505050" stroke-width="1"/>
<line x1="85.88" y1="520.5" x2="85.88" y2="522.7" stroke="#505050" stroke-width="1"/>
<line x1="98.47" y1="520.5" x2="98.47" y2="525.5" stroke="#505050" stroke-width="1"/>
<line x1="111.06" y1="520.5" x2="111.06" y2="522.7" stroke="#505050" stroke-width="1"/>
<line x1="123.66" y1="520.5" x2="123.66" y2="522.7" stroke="#505050" stroke-width="1"/>
<line x1="136.25" y1="520.5" x2="136.25" y2="522.7" stroke="#505050" stroke-width="1"/>
<line x1="148.85" y1="520.5" x2="148.85" y2="522.7" stroke="#505050" stroke-width="1"/>
<line x1="161.44" y1="520.5" x2="161.44" y2="525.5" stroke="#505050" stroke-width="1"/>
<line x1="174.03" y1="520.5" x2="174.03" y2="522.7" stroke="#505050" stroke-width="1"/>
<line x1="186.63" y1="520.5" x2="186.63" y2="522.7" stroke="#505050" stroke-width="1"/>
<line x1="199.22" y1="520.5" x2="199.22" y2="522.7" stroke="#505050" stroke-width="1"/>
<line x1="211.82" y1="520.5" x2="211.82" y2="522.7" stroke="#505050" stroke-width="1"/>
<line x1="224.41" y1="520.5" x2="224.41" y2="525.5" stroke="#505050" stroke-width="1"/>
<line x1="237.00" y1="520.5" x2="237.00" y2="522.7" stroke="#505050" stroke-width="1"/>
<line x1="249.60" y1="520.5" x2="249.60" y2="522.7" stroke="#505050" stroke-width="1"/>
<line x1="262.19" y1="520.5" x2="262.19" y2="522.7" stroke="#505050" stroke-width="1"/>
<line x1="274.79" y1="520.5" x2="274.79" y2="522.7" stroke="#505050" stroke-width="1"/>
<line x1="287.38" y1="520.5" x2="287.38" y2="525.5" stroke="#505050" stroke-width="1"/>
<line x1="299.97" y1="520.5" x2="299.97" y2="522.7" stroke="#505050" stroke-width="1"/>
<line x1="312.57" y1="520.5" x2="312.57" y2="522.7" stroke="#505050" stroke-width="1"/>
<line x1="325.16" y1="520.5" x2="325.16" y2="522.7" stroke="#505050" stroke-width="1"/>
<line x1="337.76" y1="520.5" x2="337.76" y2="522.7" stroke="#505050" stroke-width="1"/>
<line x1="350.35" y1="520.5" x2="350.35" y2="525.5" stroke="#505050" stroke-width="1"/>
<line x1="362.94" y1="520.5" x2="362.94" y2="522.7" stroke="#505050" stroke-width="1"/>
<line x1="375.54" y1="520.5" x2="375.54" y2="522.7" stroke="#505050" stroke-width="1"/>
<line x1="388.13" y1="520.5" x2="388.13" y2="522.7" stroke="#505050" stroke-width="1"/>
<line x1="400.73" y1="520.5" x2="400.73" y2="522.7" stroke="#505050" stroke-width="1"/>
<line x1="413.32" y1="520.5" x2="413.32" y2="525.5" stroke="#505050" stroke-width="1"/>
<line x1="425.91" y1="520.5" x2="425.91" y2="522.7" stroke="#505050" stroke-width="1"/>
<line x1="438.51" y1="520.5" x2="438.51" y2="522.7" stroke="#505050" stroke-width="1"/>
<line x1="451.10" y1="520.5" x2="451.10" y2="522.7" stroke="#505050" stroke-width="1"/>
<line x1="463.70" y1="520.5" x2="463.70" y2="522.7" stroke="#505050" stroke-width="1"/>
<line x1="476.29" y1="520.5" x2="476.29" y2="525.5" stroke="#505050" stroke-width="1"/>
<line x1="488.88" y1="520.5" x2="488.88" y2="522.7" stroke="#505050" stroke-width="1"/>
<line x1="501.48" y1="520.5" x2="501.48" y2="522.7" stroke="#505050" stroke-width="1"/>
<line x1="514.07" y1="520.5" x2="514.07" y2="522.7" stroke="#505050" stroke-width="1"/>
<line x1="526.67" y1="520.5" x2="526.67" y2="522.7" stroke="#505050" stroke-width="1"/>
<line x1="26.8" y1="520.60" x2="30" y2="520.60" stroke="#404040" stroke-width="1"/>
<line x1="28.4" y1="517.03" x2="30" y2="517.03" stroke="#404040" stroke-width="1"/>
<line x1="28.4" y1="513.47" x2="30" y2="513.47" stroke="#404040" stroke-width="1"/>
<line x1="28.4" y1="509.90" x2="30" y2="509.90" stroke="#404040" stroke-width="1"/>
<line x1="28.4" y1="506.34" x2="30" y2="506.34" stroke="#404040" stroke-width="1"/>
<line x1="26.8" y1="502.77" x2="30" y2="502.77" stroke="#404040" stroke-width="1"/>
<line x1="28.4" y1="499.20" x2="30" y2="499.20" stroke="#404040" stroke-width="1"/>
<line x1="28.4" y1="495.64" x2="30" y2="495.64" stroke="#404040" stroke-width="1"/>
<line x1="28.4" y1="492.07" x2="30" y2="492.07" stroke="#404040" stroke-width="1"/>
<line x1="28.4" y1="488.51" x2="30" y2="488.51" stroke="#404040" stroke-width="1"/>
<line x1="26.8" y1="484.94" x2="30" y2="484.94" stroke="#404040" stroke-width="1"/>
<line x1="28.4" y1="481.37" x2="30" y2="481.37" stroke="#404040" stroke-width="1"/>
<line x1="28.4" y1="477.81" x2="30" y2="477.81" stroke="#404040" stroke-width="1"/>
<line x1="28.4" y1="474.24" x2="30" y2="474.24" stroke="#404040" stroke-width="1"/>
<line x1="28.4" y1="470.68" x2="30" y2="470.68" stroke="#404040" stroke-width="1"/>
<line x1="26.8" y1="467.11" x2="30" y2="467.11" stroke="#404040" stroke-width="1"/>
<line x1="28.4" y1="463.54" x2="30" y2="463.54" stroke="#404040" stroke-width="1"/>
<line x1="28.4" y1="459.98" x2="30" y2="459.98" stroke="#404040" stroke-width="1"/>
<line x1="28.4" y1="456.41" x2="30" y2="456.41" stroke="#404040" stroke-width="1"/>
<line x1="28.4" y1="452.85" x2="30" y2="452.85" stroke="#404040" stroke-width="1"/>
<line x1="26.8" y1="449.28" x2="30" y2="449.28" stroke="#404040" stroke-width="1"/>
<line x1="28.4" y1="445.71" x2="30" y2="445.71" stroke="#404040" stroke-width="1"/>
<line x1="28.4" y1="442.15" x2="30" y2="442.15" stroke="#404040" stroke-width="1"/>
<line x1="28.4" y1="438.58" x2="30" y2="438.58" stroke="#404040" stroke-width="1"/>
<line x1="28.4" y1="435.02" x2="30" y2="435.02" stroke="#404040" stroke-width="1"/>
<line x1="26.8" y1="431.45" x2="30" y2="431.45" stroke="#404040" stroke-width="1"/>
<line x1="28.4" y1="427.88" x2="30" y2="427.88" stroke="#404040" stroke-width="1"/>
<line x1="28.4" y1="424.32" x2="30" y2="424.32" stroke="#404040" stroke-width="1"/>
<line x1="28.4" y1="420.75" x2="30" y2="420.75" stroke="#404040" stroke-width="1"/>
<line x1="28.4" y1="417.19" x2="30" y2="417.19" stroke="#404040" stroke-width="1"/>
<line x1="26.8" y1="413.62" x2="30" y2="413.62" stroke="#404040" stroke-width="1"/>
<line x1="28.4" y1="410.05" x2="30" y2="410.05" stroke="#404040" stroke-width="1"/>
<line x1="28.4" y1="406.49" x2="30" y2="406.49" stroke="#404040" stroke-width="1"/>
<line x1="28.4" y1="402.92" x2="30" y2="402.92" stroke="#404040" stroke-width="1"/>
<line x1="28.4" y1="399.36" x2="30" y2="399.36" stroke="#404040" stroke-width="1"/>
<line x1="26.8" y1="395.79" x2="30" y2="395.79" stroke="#404040" stroke-width="1"/>
<line x1="28.4" y1="392.22" x2="30" y2="392.22" stroke="#404040" stroke-width="1"/>
<line x1="28.4" y1="388.66" x2="30" y2="388.66" stroke="#404040" stroke-width="1"/>
<line x1="28.4" y1="385.09" x2="30" y2="385.09" stroke="#404040" stroke-width="1"/>
<line x1="28.4" y1="381.53" x2="30" y2="381.53" stroke="#404040" stroke-width="1"/>
<line x1="26.8" y1="377.96" x2="30" y2="377.96" stroke="#404040" stroke-width="1"/>
<line x1="28.4" y1="374.39" x2="30" y2="374.39" stroke="#404040" stroke-width="1"/>
<line x1="28.4" y1="370.83" x2="30" y2="370.83" stroke="#404040" stroke-width="1"/>
<line x1="28.4" y1="367.26" x2="30" y2="367.26" stroke="#404040" stroke-width="1"/>
<line x1="28.4" y1="363.70" x2="30" y2="363.70" stroke="#404040" stroke-width="1"/>
<line x1="26.8" y1="360.13" x2="30" y2="360.13" stroke="#404040" stroke-width="1"/>
<line x1="28.4" y1="356.56" x2="30" y2="356.56" stroke="#404040" stroke-width="1"/>
<line x1="28.4" y1="353.00" x2="30" y2="353.00" stroke="#404040" stroke-width="1"/>
<line x1="28.4" y1="349.43" x2="30" y2="349.43" stroke="#404040" stroke-width="1"/>
<line x1="28.4" y1="345.87" x2="30" y2="345.87" stroke="#404040" stroke-width="1"/>
<line x1="26.8" y1="342.30" x2="30" y2="342.30" stroke="#404040" stroke-width="1"/>
<line x1="28.4" y1="338.73" x2="30" y2="338.73" stroke="#404040" stroke-width="1"/>
<line x1="28.4" y1="335.17" x2="30" y2="335.17" stroke="#404040" stroke-width="1"/>
<line x1="28.4" y1="331.60" x2="30" y2="331.60" stroke="#404040" stroke-width="1"/>
<line x1="28.4" y1="328.04" x2="30" y2="328.04" stroke="#404040" stroke-width="1"/>
<line x1="26.8" y1="324.47" x2="30" y2="324.47" stroke="#404040" stroke-width="1"/>
<line x1="28.4" y1="320.90" x2="30" y2="320.90" stroke="#404040" stroke-width="1"/>
<line x1="28.4" y1="317.34" x2="30" y2="317.34" stroke="#404040" stroke-width="1"/>
<text x="26.2" y="520.5" text-anchor="end" class="ax">0</text>
<text x="26.2" y="502.7" text-anchor="end" class="ax">0.1</text>
<text x="26.2" y="484.8" text-anchor="end" class="ax">0.2</text>
<text x="26.2" y="467.0" text-anchor="end" class="ax">0.3</text>
<text x="26.2" y="449.2" text-anchor="end" class="ax">0.4</text>
<text x="26.2" y="431.4" text-anchor="end" class="ax">0.5</text>
<text x="26.2" y="413.5" text-anchor="end" class="ax">0.6</text>
<text x="26.2" y="395.7" text-anchor="end" class="ax">0.7</text>
<text x="26.2" y="377.9" text-anchor="end" class="ax">0.8</text>
<text x="26.2" y="360.0" text-anchor="end" class="ax">0.9</text>
<text x="26.2" y="342.2" text-anchor="end" class="ax">1</text>
<text x="26.2" y="324.4" text-anchor="end" class="ax">1.1</text>
<text x="35.5" y="532.6" text-anchor="middle" class="ax">740</text>
<text x="98.5" y="532.6" text-anchor="middle" class="ax">735</text>
<text x="161.4" y="532.6" text-anchor="middle" class="ax">730</text>
<text x="224.4" y="532.6" text-anchor="middle" class="ax">725</text>
<text x="287.4" y="532.6" text-anchor="middle" class="ax">720</text>
<text x="350.3" y="532.6" text-anchor="middle" class="ax">715</text>
<text x="413.3" y="532.6" text-anchor="middle" class="ax">710</text>
<text x="476.3" y="532.6" text-anchor="middle" class="ax">705</text>
<text x="281.7" y="542" text-anchor="middle" class="ax2">Binding Energy (eV)</text>
<text transform="translate(12.7,417.5) rotate(-90)" text-anchor="middle" class="ax">CPS</text>
<text x="33.5" y="16.8" class="lg" style="fill:#ff2a3a;stroke:#ff2a3a">Fe2p 20%Ni FeAl2O3</text>
<text x="33.5" y="25.4" class="lg" style="fill:#12a03e;stroke:#12a03e">Fe2p 20%Ni FeAl2O3 450C 5hres air sec</text>
<text x="33.5" y="33.7" class="lg" style="fill:#2560ae;stroke:#2560ae">Fe2p FeAl2O3 air sec puis H2 400C 3hres</text>
<text x="402" y="28" text-anchor="middle" class="pk">771.4 eV.</text>
<text x="61.6" y="141.7" class="tb">Name</text>
<text x="102.7" y="141.7" class="tb" text-anchor="middle">Pos.</text>
<text x="128.3" y="141.7" class="tb" text-anchor="middle">FWHM</text>
<text x="163" y="141.7" class="tb" text-anchor="middle">L.Sh.</text>
<text x="198" y="141.7" class="tb" text-anchor="middle">Area</text>
<text x="221.5" y="141.7" class="tb" text-anchor="middle">%Area</text>
<text x="61.6" y="150.1" class="tb" style="fill:#e85a5a;stroke:#e85a5a">Fe met</text>
<text x="103" y="150.1" class="tb" text-anchor="middle">706.90</text>
<text x="128.3" y="150.1" class="tb" text-anchor="middle">2.00</text>
<text x="184" y="150.1" class="tb" text-anchor="end">LA(1.53,243)</text>
<text x="198.2" y="150.1" class="tb" text-anchor="middle">0.25</text>
<text x="230.5" y="150.1" class="tb" text-anchor="end">8.52</text>
<text x="61.6" y="158.6" class="tb" style="fill:#7fb23e;stroke:#7fb23e">Fe 2+</text>
<text x="103" y="158.6" class="tb" text-anchor="middle">709.97</text>
<text x="128.3" y="158.6" class="tb" text-anchor="middle">3.00</text>
<text x="184" y="158.6" class="tb" text-anchor="end">GL(30)</text>
<text x="198.2" y="158.6" class="tb" text-anchor="middle">1.16</text>
<text x="230.5" y="158.6" class="tb" text-anchor="end">39.89</text>
<text x="61.6" y="167.0" class="tb" style="fill:#4a88d0;stroke:#4a88d0">Fe 3+</text>
<text x="103" y="167.0" class="tb" text-anchor="middle">712.37</text>
<text x="128.3" y="167.0" class="tb" text-anchor="middle">3.60</text>
<text x="184" y="167.0" class="tb" text-anchor="end">GL(30)</text>
<text x="198.2" y="167.0" class="tb" text-anchor="middle">1.50</text>
<text x="230.5" y="167.0" class="tb" text-anchor="end">51.58</text>
<text x="61.6" y="295.8" class="tb">Name</text>
<text x="102.7" y="295.8" class="tb" text-anchor="middle">Pos.</text>
<text x="128.3" y="295.8" class="tb" text-anchor="middle">FWHM</text>
<text x="163" y="295.8" class="tb" text-anchor="middle">L.Sh.</text>
<text x="198" y="295.8" class="tb" text-anchor="middle">Area</text>
<text x="221.5" y="295.8" class="tb" text-anchor="middle">%Area</text>
<text x="61.6" y="304.2" class="tb" style="fill:#e85a5a;stroke:#e85a5a">Fe met</text>
<text x="103" y="304.2" class="tb" text-anchor="middle">706.54</text>
<text x="128.3" y="304.2" class="tb" text-anchor="middle">1.81</text>
<text x="184" y="304.2" class="tb" text-anchor="end">LA(1.53,243)</text>
<text x="198.2" y="304.2" class="tb" text-anchor="middle">0.08</text>
<text x="230.5" y="304.2" class="tb" text-anchor="end">3.03</text>
<text x="61.6" y="312.7" class="tb" style="fill:#7fb23e;stroke:#7fb23e">Fe 2+</text>
<text x="103" y="312.7" class="tb" text-anchor="middle">710.22</text>
<text x="128.3" y="312.7" class="tb" text-anchor="middle">3.00</text>
<text x="184" y="312.7" class="tb" text-anchor="end">GL(30)</text>
<text x="198.2" y="312.7" class="tb" text-anchor="middle">1.44</text>
<text x="230.5" y="312.7" class="tb" text-anchor="end">54.96</text>
<text x="61.6" y="321.2" class="tb" style="fill:#4a88d0;stroke:#4a88d0">Fe 3+</text>
<text x="103" y="321.2" class="tb" text-anchor="middle">712.44</text>
<text x="128.3" y="321.2" class="tb" text-anchor="middle">3.60</text>
<text x="184" y="321.2" class="tb" text-anchor="end">GL(30)</text>
<text x="198.2" y="321.2" class="tb" text-anchor="middle">1.10</text>
<text x="230.5" y="321.2" class="tb" text-anchor="end">42.01</text>
<text x="61.6" y="450.2" class="tb">Name</text>
<text x="102.7" y="450.2" class="tb" text-anchor="middle">Pos.</text>
<text x="128.3" y="450.2" class="tb" text-anchor="middle">FWHM</text>
<text x="163" y="450.2" class="tb" text-anchor="middle">L.Sh.</text>
<text x="198" y="450.2" class="tb" text-anchor="middle">Area</text>
<text x="221.5" y="450.2" class="tb" text-anchor="middle">%Area</text>
<text x="61.6" y="458.6" class="tb" style="fill:#e85a5a;stroke:#e85a5a">Fe met</text>
<text x="103" y="458.6" class="tb" text-anchor="middle">706.97</text>
<text x="128.3" y="458.6" class="tb" text-anchor="middle">2.00</text>
<text x="184" y="458.6" class="tb" text-anchor="end">LA(1.53,243)</text>
<text x="198.2" y="458.6" class="tb" text-anchor="middle">0.35</text>
<text x="230.5" y="458.6" class="tb" text-anchor="end">12.52</text>
<text x="61.6" y="467.1" class="tb" style="fill:#7fb23e;stroke:#7fb23e">Fe 2+</text>
<text x="103" y="467.1" class="tb" text-anchor="middle">710.15</text>
<text x="128.3" y="467.1" class="tb" text-anchor="middle">3.00</text>
<text x="184" y="467.1" class="tb" text-anchor="end">GL(30)</text>
<text x="198.2" y="467.1" class="tb" text-anchor="middle">1.21</text>
<text x="230.5" y="467.1" class="tb" text-anchor="end">43.35</text>
<text x="61.6" y="475.6" class="tb" style="fill:#4a88d0;stroke:#4a88d0">Fe 3+</text>
<text x="103" y="475.6" class="tb" text-anchor="middle">712.57</text>
<text x="128.3" y="475.6" class="tb" text-anchor="middle">3.60</text>
<text x="184" y="475.6" class="tb" text-anchor="end">GL(30)</text>
<text x="198.2" y="475.6" class="tb" text-anchor="middle">1.23</text>
<text x="230.5" y="475.6" class="tb" text-anchor="end">44.13</text>
</svg>
</body></html>
